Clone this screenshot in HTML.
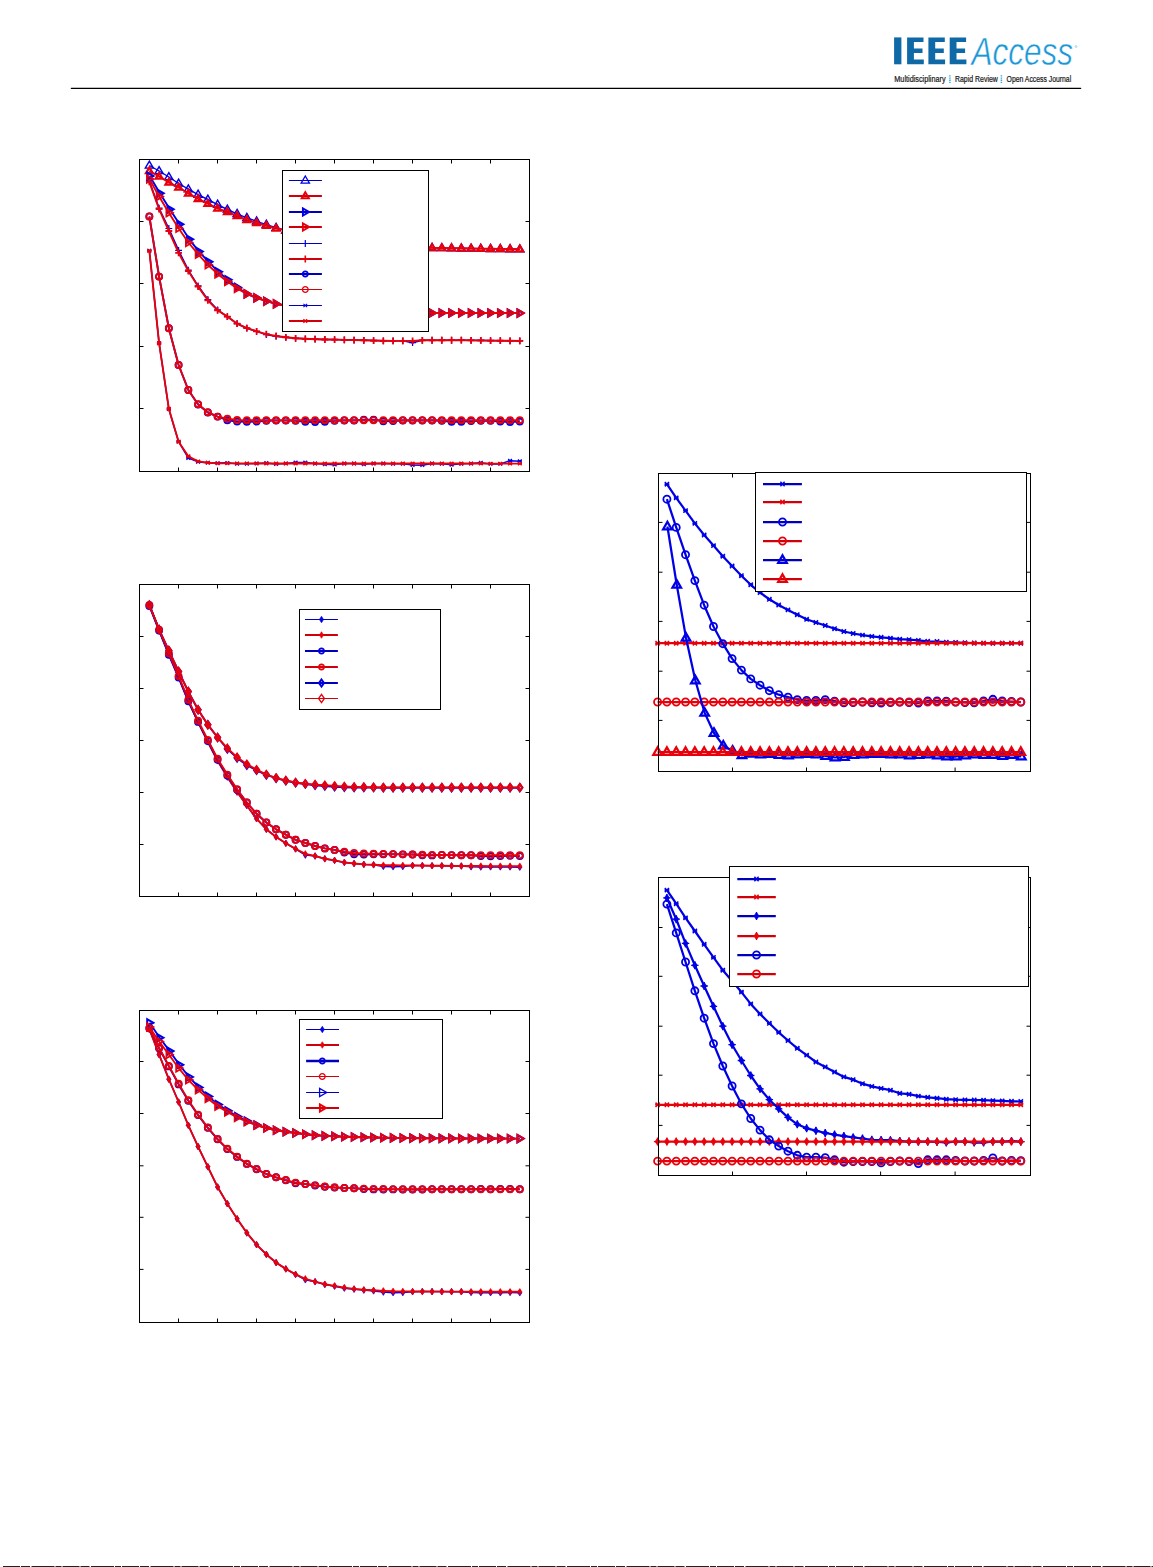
<!DOCTYPE html>
<html><head><meta charset="utf-8"><title>page</title>
<style>
html,body{margin:0;padding:0;background:#fff;}
body{width:1153px;height:1567px;overflow:hidden;font-family:"Liberation Sans",sans-serif;}
svg{display:block;}
</style></head><body>
<svg width="1153" height="1567" viewBox="0 0 1153 1567">
<defs>
<g id="m0"><path d="M0 -4.4 L4.07 2.65 L-4.07 2.65 Z" fill="none" stroke-width="1.4" stroke-miterlimit="6"/></g>
<g id="m1"><path d="M0 -3.6 L3.38 2.25 L-3.38 2.25 Z" fill="none" stroke-width="2.2" stroke-miterlimit="6"/></g>
<g id="m2"><path d="M3.6 0 L-2.25 3.38 L-2.25 -3.38 Z" fill="none" stroke-width="2.2" stroke-miterlimit="6"/></g>
<g id="m3"><path d="M4 0 L-2.45 3.72 L-2.45 -3.72 Z" fill="none" stroke-width="1.8" stroke-miterlimit="6"/></g>
<g id="m4"><path d="M0 -3.4 V3.4 M-3.4 0 H3.4" fill="none" stroke-width="1.2"/></g>
<g id="m5"><path d="M0 -3.4 V3.4 M-3.4 0 H3.4" fill="none" stroke-width="1.76"/></g>
<g id="m6"><circle r="3.05" fill="none" stroke-width="1.8"/></g>
<g id="m7"><circle r="3.05" fill="none" stroke-width="1.8"/></g>
<g id="m8"><path d="M-1.87 -1.7 L1.87 1.7 M-1.87 1.7 L1.87 -1.7 M-2.17 0 H2.17" fill="none" stroke-width="1.27"/></g>
<g id="m9"><path d="M-1.87 -1.7 L1.87 1.7 M-1.87 1.7 L1.87 -1.7 M-2.17 0 H2.17" fill="none" stroke-width="1.36"/></g>
<g id="m10"><path d="M0 -4.5 L4.16 2.7 L-4.16 2.7 Z" fill="none" stroke-width="1.3" stroke-miterlimit="6"/></g>
<g id="m11"><path d="M0 -3.8 L3.55 2.35 L-3.55 2.35 Z" fill="none" stroke-width="2" stroke-miterlimit="6"/></g>
<g id="m12"><path d="M3.8 0 L-2.35 3.55 L-2.35 -3.55 Z" fill="none" stroke-width="2" stroke-miterlimit="6"/></g>
<g id="m13"><path d="M3.9 0 L-2.4 3.64 L-2.4 -3.64 Z" fill="none" stroke-width="1.9" stroke-miterlimit="6"/></g>
<g id="m14"><path d="M0 -3.4 V3.4 M-3.4 0 H3.4" fill="none" stroke-width="1.2"/></g>
<g id="m15"><path d="M0 -3.4 V3.4 M-3.4 0 H3.4" fill="none" stroke-width="1.6"/></g>
<g id="m16"><circle r="2.65" fill="none" stroke-width="1.8"/></g>
<g id="m17"><circle r="2.9" fill="none" stroke-width="1.3"/></g>
<g id="m18"><path d="M-1.87 -1.7 L1.87 1.7 M-1.87 1.7 L1.87 -1.7 M-2.17 0 H2.17" fill="none" stroke-width="1.1"/></g>
<g id="m19"><path d="M-1.87 -1.7 L1.87 1.7 M-1.87 1.7 L1.87 -1.7 M-2.17 0 H2.17" fill="none" stroke-width="1.36"/></g>
<g id="m20"><path d="M0 -3.3 L2.1 0 L0 3.3 L-2.1 0 Z" stroke-width="0.6"/></g>
<g id="m21"><path d="M0 -3.3 L2.1 0 L0 3.3 L-2.1 0 Z" stroke-width="0.6"/></g>
<g id="m22"><circle r="3.05" fill="none" stroke-width="1.8"/></g>
<g id="m23"><path d="M0 -3.53 L2.52 0 L0 3.53 L-2.52 0 Z" fill="none" stroke-width="2" stroke-miterlimit="6"/></g>
<g id="m24"><path d="M0 -3.44 L2.46 0 L0 3.44 L-2.46 0 Z" fill="none" stroke-width="2.1" stroke-miterlimit="6"/></g>
<g id="m25"><path d="M0 -3.3 L2.1 0 L0 3.3 L-2.1 0 Z" stroke-width="0.6"/></g>
<g id="m26"><path d="M0 -3.3 L2.1 0 L0 3.3 L-2.1 0 Z" stroke-width="0.6"/></g>
<g id="m27"><path d="M0 -3.53 L2.52 0 L0 3.53 L-2.52 0 Z" fill="none" stroke-width="2" stroke-miterlimit="6"/></g>
<g id="m28"><path d="M0 -4.13 L2.95 0 L0 4.13 L-2.95 0 Z" fill="none" stroke-width="1.3" stroke-miterlimit="6"/></g>
<g id="m29"><path d="M3.8 0 L-2.35 3.55 L-2.35 -3.55 Z" fill="none" stroke-width="2" stroke-miterlimit="6"/></g>
<g id="m30"><path d="M4.05 0 L-2.47 3.77 L-2.47 -3.77 Z" fill="none" stroke-width="1.75" stroke-miterlimit="6"/></g>
<g id="m31"><circle r="2.65" fill="none" stroke-width="1.8"/></g>
<g id="m32"><path d="M4.5 0 L-2.7 4.16 L-2.7 -4.16 Z" fill="none" stroke-width="1.3" stroke-miterlimit="6"/></g>
<g id="m33"><path d="M-2.11 -2.18 L2.11 2.18 M-2.11 2.18 L2.11 -2.18 M-2.41 0 H2.41" fill="none" stroke-width="1.5"/></g>
<g id="m34"><circle r="3.55" fill="none" stroke-width="1.8"/></g>
<g id="m35"><path d="M0 -4.65 L4.29 2.77 L-4.29 2.77 Z" fill="none" stroke-width="2.25" stroke-miterlimit="6"/></g>
<g id="m36"><path d="M0 -3.6 L2.5 0 L0 3.6 L-2.5 0 Z" stroke-width="0.8" stroke-linejoin="round"/><path d="M0 -4 V4 M-3.7 0 H3.7" fill="none" stroke-width="1.3"/></g>
</defs>
<rect width="1153" height="1567" fill="#fff"/>
<g fill="#0f69a6"><rect x="894.1" y="37.4" width="7.3" height="26.9"/><path d="M907.1 37.4 h16.4 v4.7 h-9.6 v6.5 h8.6 v4.5 h-8.6 v6.5 h9.9 v4.7 h-16.7 Z"/><path d="M928.4 37.4 h16.4 v4.7 h-9.6 v6.5 h8.6 v4.5 h-8.6 v6.5 h9.9 v4.7 h-16.7 Z"/><path d="M949.7 37.4 h16.4 v4.7 h-9.6 v6.5 h8.6 v4.5 h-8.6 v6.5 h9.9 v4.7 h-16.7 Z"/></g><text x="0" y="0" transform="translate(971.6 64.7) scale(0.808 1)" font-family="Liberation Sans, sans-serif" font-style="italic" font-size="39" fill="#1b97d4" stroke="#fff" stroke-width="0.55">Access</text><circle cx="1076" cy="46.5" r="1" fill="none" stroke="#1b97d4" stroke-width="0.5" opacity="0.7"/><text x="894.3" y="81.5" textLength="51.3" font-family="Liberation Sans, sans-serif" font-size="8.3" fill="#1a1a1a" stroke="#1a1a1a" stroke-width="0.22" lengthAdjust="spacingAndGlyphs">Multidisciplinary</text><text x="955.0" y="81.5" textLength="42.8" font-family="Liberation Sans, sans-serif" font-size="8.3" fill="#1a1a1a" stroke="#1a1a1a" stroke-width="0.22" lengthAdjust="spacingAndGlyphs">Rapid Review</text><text x="1006.6" y="81.5" textLength="64.6" font-family="Liberation Sans, sans-serif" font-size="8.3" fill="#1a1a1a" stroke="#1a1a1a" stroke-width="0.22" lengthAdjust="spacingAndGlyphs">Open Access Journal</text><path d="M949.9 75.2 V83" stroke="#2fa9dc" stroke-width="1.5" stroke-dasharray="1.3 0.9" fill="none"/><path d="M1001.4 75.2 V83" stroke="#2fa9dc" stroke-width="1.5" stroke-dasharray="1.3 0.9" fill="none"/><path d="M71.4 88.45 H1080.6" stroke="#000" stroke-width="1.25" stroke-linecap="round"/><path d="M3 1566.5 H1153" stroke="#222" stroke-width="1" stroke-dasharray="17 1 9 1.5 23 1 6 1"/>
<g stroke="#0000e6" fill="#0000e6"><polyline points="149.35,165.5 159.1,171 168.85,177 178.6,183.5 188.34,189.2 198.09,194.6 207.84,199.5 217.59,204.6 227.34,209.5 237.09,213.8 246.84,217.8 256.59,221.3 266.34,224.6 276.09,227.7 285.84,230.35 295.58,232.4 305.33,234.45 315.08,236.5 324.83,237.88 334.58,239.25 344.33,240.62 354.08,242 363.83,242.88 373.58,243.75 383.33,244.62 393.07,245.5 402.82,246.07 412.57,246.65 422.32,247.23 432.07,247.8 441.82,247.98 451.57,248.15 461.32,248.32 471.07,248.5 480.82,248.64 490.56,248.78 500.31,248.92 510.06,249.06 519.81,249.2" fill="none" stroke-width="1.4" stroke-linejoin="round"/><use href="#m0" x="149.35" y="165.5"/><use href="#m0" x="159.1" y="171"/><use href="#m0" x="168.85" y="177"/><use href="#m0" x="178.6" y="183.5"/><use href="#m0" x="188.34" y="189.2"/><use href="#m0" x="198.09" y="194.6"/><use href="#m0" x="207.84" y="199.5"/><use href="#m0" x="217.59" y="204.6"/><use href="#m0" x="227.34" y="209.5"/><use href="#m0" x="237.09" y="213.8"/><use href="#m0" x="246.84" y="217.8"/><use href="#m0" x="256.59" y="221.3"/><use href="#m0" x="266.34" y="224.6"/><use href="#m0" x="276.09" y="227.7"/><use href="#m0" x="285.84" y="230.35"/><use href="#m0" x="295.58" y="232.4"/><use href="#m0" x="305.33" y="234.45"/><use href="#m0" x="315.08" y="236.5"/><use href="#m0" x="324.83" y="237.88"/><use href="#m0" x="334.58" y="239.25"/><use href="#m0" x="344.33" y="240.62"/><use href="#m0" x="354.08" y="242"/><use href="#m0" x="363.83" y="242.88"/><use href="#m0" x="373.58" y="243.75"/><use href="#m0" x="383.33" y="244.62"/><use href="#m0" x="393.07" y="245.5"/><use href="#m0" x="402.82" y="246.07"/><use href="#m0" x="412.57" y="246.65"/><use href="#m0" x="422.32" y="247.23"/><use href="#m0" x="432.07" y="247.8"/><use href="#m0" x="441.82" y="247.98"/><use href="#m0" x="451.57" y="248.15"/><use href="#m0" x="461.32" y="248.32"/><use href="#m0" x="471.07" y="248.5"/><use href="#m0" x="480.82" y="248.64"/><use href="#m0" x="490.56" y="248.78"/><use href="#m0" x="500.31" y="248.92"/><use href="#m0" x="510.06" y="249.06"/><use href="#m0" x="519.81" y="249.2"/></g><g stroke="#e8000b" fill="#e8000b"><polyline points="149.35,171 159.1,176.4 168.85,182.4 178.6,187.3 188.34,193.4 198.09,198.8 207.84,203.7 217.59,208.3 227.34,211.9 237.09,215.9 246.84,219.8 256.59,222.9 266.34,225.6 276.09,228.3 285.84,230.35 295.58,232.4 305.33,234.45 315.08,236.5 324.83,237.88 334.58,239.25 344.33,240.62 354.08,242 363.83,242.88 373.58,243.75 383.33,244.62 393.07,245.5 402.82,246.07 412.57,246.65 422.32,247.23 432.07,247.8 441.82,247.98 451.57,248.15 461.32,248.32 471.07,248.5 480.82,248.64 490.56,248.78 500.31,248.92 510.06,249.06 519.81,249.2" fill="none" stroke-width="1.9" stroke-linejoin="round"/><use href="#m1" x="149.35" y="171"/><use href="#m1" x="159.1" y="176.4"/><use href="#m1" x="168.85" y="182.4"/><use href="#m1" x="178.6" y="187.3"/><use href="#m1" x="188.34" y="193.4"/><use href="#m1" x="198.09" y="198.8"/><use href="#m1" x="207.84" y="203.7"/><use href="#m1" x="217.59" y="208.3"/><use href="#m1" x="227.34" y="211.9"/><use href="#m1" x="237.09" y="215.9"/><use href="#m1" x="246.84" y="219.8"/><use href="#m1" x="256.59" y="222.9"/><use href="#m1" x="266.34" y="225.6"/><use href="#m1" x="276.09" y="228.3"/><use href="#m1" x="285.84" y="230.35"/><use href="#m1" x="295.58" y="232.4"/><use href="#m1" x="305.33" y="234.45"/><use href="#m1" x="315.08" y="236.5"/><use href="#m1" x="324.83" y="237.88"/><use href="#m1" x="334.58" y="239.25"/><use href="#m1" x="344.33" y="240.62"/><use href="#m1" x="354.08" y="242"/><use href="#m1" x="363.83" y="242.88"/><use href="#m1" x="373.58" y="243.75"/><use href="#m1" x="383.33" y="244.62"/><use href="#m1" x="393.07" y="245.5"/><use href="#m1" x="402.82" y="246.07"/><use href="#m1" x="412.57" y="246.65"/><use href="#m1" x="422.32" y="247.23"/><use href="#m1" x="432.07" y="247.8"/><use href="#m1" x="441.82" y="247.98"/><use href="#m1" x="451.57" y="248.15"/><use href="#m1" x="461.32" y="248.32"/><use href="#m1" x="471.07" y="248.5"/><use href="#m1" x="480.82" y="248.64"/><use href="#m1" x="490.56" y="248.78"/><use href="#m1" x="500.31" y="248.92"/><use href="#m1" x="510.06" y="249.06"/><use href="#m1" x="519.81" y="249.2"/></g><g stroke="#0000e6" fill="#0000e6"><polyline points="149.65,176 159.9,193.2 169.85,209.2 179.6,224.3 189.34,239.3 198.99,251.6 208.64,261.8 218.19,271.7 227.74,279.7 237.29,287.4 246.84,293.9 256.59,297.9 266.34,301.2 276.09,303.9 285.84,305.9 295.58,307.5 305.33,308.8 315.08,309.8 324.83,310.6 334.58,311.2 344.33,311.7 354.08,312.1 363.83,312.4 373.58,312.6 383.33,312.8 393.07,312.9 402.82,312.92 412.57,312.93 422.32,312.95 432.07,312.96 441.82,312.98 451.57,312.99 461.32,313.01 471.07,313.02 480.82,313.04 490.56,313.05 500.31,313.07 510.06,313.08 519.81,313.1" fill="none" stroke-width="1.9" stroke-linejoin="round"/><use href="#m2" x="149.65" y="176"/><use href="#m2" x="159.9" y="193.2"/><use href="#m2" x="169.85" y="209.2"/><use href="#m2" x="179.6" y="224.3"/><use href="#m2" x="189.34" y="239.3"/><use href="#m2" x="198.99" y="251.6"/><use href="#m2" x="208.64" y="261.8"/><use href="#m2" x="218.19" y="271.7"/><use href="#m2" x="227.74" y="279.7"/><use href="#m2" x="237.29" y="287.4"/><use href="#m2" x="246.84" y="293.9"/><use href="#m2" x="256.59" y="297.9"/><use href="#m2" x="266.34" y="301.2"/><use href="#m2" x="276.09" y="303.9"/><use href="#m2" x="285.84" y="305.9"/><use href="#m2" x="295.58" y="307.5"/><use href="#m2" x="305.33" y="308.8"/><use href="#m2" x="315.08" y="309.8"/><use href="#m2" x="324.83" y="310.6"/><use href="#m2" x="334.58" y="311.2"/><use href="#m2" x="344.33" y="311.7"/><use href="#m2" x="354.08" y="312.1"/><use href="#m2" x="363.83" y="312.4"/><use href="#m2" x="373.58" y="312.6"/><use href="#m2" x="383.33" y="312.8"/><use href="#m2" x="393.07" y="312.9"/><use href="#m2" x="402.82" y="312.92"/><use href="#m2" x="412.57" y="312.93"/><use href="#m2" x="422.32" y="312.95"/><use href="#m2" x="432.07" y="312.96"/><use href="#m2" x="441.82" y="312.98"/><use href="#m2" x="451.57" y="312.99"/><use href="#m2" x="461.32" y="313.01"/><use href="#m2" x="471.07" y="313.02"/><use href="#m2" x="480.82" y="313.04"/><use href="#m2" x="490.56" y="313.05"/><use href="#m2" x="500.31" y="313.07"/><use href="#m2" x="510.06" y="313.08"/><use href="#m2" x="519.81" y="313.1"/></g><g stroke="#e8000b" fill="#e8000b"><polyline points="149.35,179 159.1,196.4 168.85,212.8 178.6,228.3 188.34,242.5 198.09,254.2 207.84,264.8 217.59,273.9 227.34,281.5 237.09,288.4 246.84,293.9 256.59,297.9 266.34,301.2 276.09,303.9 285.84,305.9 295.58,307.5 305.33,308.8 315.08,309.8 324.83,310.6 334.58,311.2 344.33,311.7 354.08,312.1 363.83,312.4 373.58,312.6 383.33,312.8 393.07,312.9 402.82,312.92 412.57,312.93 422.32,312.95 432.07,312.96 441.82,312.98 451.57,312.99 461.32,313.01 471.07,313.02 480.82,313.04 490.56,313.05 500.31,313.07 510.06,313.08 519.81,313.1" fill="none" stroke-width="1.9" stroke-linejoin="round"/><use href="#m3" x="149.35" y="179"/><use href="#m3" x="159.1" y="196.4"/><use href="#m3" x="168.85" y="212.8"/><use href="#m3" x="178.6" y="228.3"/><use href="#m3" x="188.34" y="242.5"/><use href="#m3" x="198.09" y="254.2"/><use href="#m3" x="207.84" y="264.8"/><use href="#m3" x="217.59" y="273.9"/><use href="#m3" x="227.34" y="281.5"/><use href="#m3" x="237.09" y="288.4"/><use href="#m3" x="246.84" y="293.9"/><use href="#m3" x="256.59" y="297.9"/><use href="#m3" x="266.34" y="301.2"/><use href="#m3" x="276.09" y="303.9"/><use href="#m3" x="285.84" y="305.9"/><use href="#m3" x="295.58" y="307.5"/><use href="#m3" x="305.33" y="308.8"/><use href="#m3" x="315.08" y="309.8"/><use href="#m3" x="324.83" y="310.6"/><use href="#m3" x="334.58" y="311.2"/><use href="#m3" x="344.33" y="311.7"/><use href="#m3" x="354.08" y="312.1"/><use href="#m3" x="363.83" y="312.4"/><use href="#m3" x="373.58" y="312.6"/><use href="#m3" x="383.33" y="312.8"/><use href="#m3" x="393.07" y="312.9"/><use href="#m3" x="402.82" y="312.92"/><use href="#m3" x="412.57" y="312.93"/><use href="#m3" x="422.32" y="312.95"/><use href="#m3" x="432.07" y="312.96"/><use href="#m3" x="441.82" y="312.98"/><use href="#m3" x="451.57" y="312.99"/><use href="#m3" x="461.32" y="313.01"/><use href="#m3" x="471.07" y="313.02"/><use href="#m3" x="480.82" y="313.04"/><use href="#m3" x="490.56" y="313.05"/><use href="#m3" x="500.31" y="313.07"/><use href="#m3" x="510.06" y="313.08"/><use href="#m3" x="519.81" y="313.1"/></g><g stroke="#0000e6" fill="#0000e6"><polyline points="149.35,180.9 159.1,208.2 168.85,228.5 178.6,250.4 188.34,270.1 198.09,285.8 207.84,299.5 217.59,309.8 227.34,316.6 237.09,323.7 246.84,328.2 256.59,331.3 266.34,334.6 276.09,336.4 285.84,337.3 295.58,338.3 305.33,338.8 315.08,339.2 324.83,339.5 334.58,339.6 344.33,339.84 354.08,340.08 363.83,340.32 373.58,340.56 383.33,340.8 393.07,340.83 402.82,340.87 412.57,342.7 422.32,340.3 432.07,340.27 441.82,340.25 451.57,340.23 461.32,340.2 471.07,340.33 480.82,340.47 490.56,340.6 500.31,340.7 510.06,340.8 519.81,340.9" fill="none" stroke-width="1.5" stroke-linejoin="round"/><use href="#m4" x="149.35" y="180.9"/><use href="#m4" x="159.1" y="208.2"/><use href="#m4" x="168.85" y="228.5"/><use href="#m4" x="178.6" y="250.4"/><use href="#m4" x="188.34" y="270.1"/><use href="#m4" x="198.09" y="285.8"/><use href="#m4" x="207.84" y="299.5"/><use href="#m4" x="217.59" y="309.8"/><use href="#m4" x="227.34" y="316.6"/><use href="#m4" x="237.09" y="323.7"/><use href="#m4" x="246.84" y="328.2"/><use href="#m4" x="256.59" y="331.3"/><use href="#m4" x="266.34" y="334.6"/><use href="#m4" x="276.09" y="336.4"/><use href="#m4" x="285.84" y="337.3"/><use href="#m4" x="295.58" y="338.3"/><use href="#m4" x="305.33" y="338.8"/><use href="#m4" x="315.08" y="339.2"/><use href="#m4" x="324.83" y="339.5"/><use href="#m4" x="334.58" y="339.6"/><use href="#m4" x="344.33" y="339.84"/><use href="#m4" x="354.08" y="340.08"/><use href="#m4" x="363.83" y="340.32"/><use href="#m4" x="373.58" y="340.56"/><use href="#m4" x="383.33" y="340.8"/><use href="#m4" x="393.07" y="340.83"/><use href="#m4" x="402.82" y="340.87"/><use href="#m4" x="412.57" y="342.7"/><use href="#m4" x="422.32" y="340.3"/><use href="#m4" x="432.07" y="340.27"/><use href="#m4" x="441.82" y="340.25"/><use href="#m4" x="451.57" y="340.23"/><use href="#m4" x="461.32" y="340.2"/><use href="#m4" x="471.07" y="340.33"/><use href="#m4" x="480.82" y="340.47"/><use href="#m4" x="490.56" y="340.6"/><use href="#m4" x="500.31" y="340.7"/><use href="#m4" x="510.06" y="340.8"/><use href="#m4" x="519.81" y="340.9"/></g><g stroke="#e8000b" fill="#e8000b"><polyline points="149.35,181.9 159.1,209.2 168.85,231 178.6,252.9 188.34,271.1 198.09,286.6 207.84,300.3 217.59,310.3 227.34,316.6 237.09,323.7 246.84,328.2 256.59,331.3 266.34,334.1 276.09,335.9 285.84,337.3 295.58,338.3 305.33,338.8 315.08,339.2 324.83,339.5 334.58,339.6 344.33,339.84 354.08,340.08 363.83,340.32 373.58,340.56 383.33,340.8 393.07,340.83 402.82,340.87 412.57,340.9 422.32,340.3 432.07,340.27 441.82,340.25 451.57,340.23 461.32,340.2 471.07,340.33 480.82,340.47 490.56,340.6 500.31,340.7 510.06,340.8 519.81,340.9" fill="none" stroke-width="1.9" stroke-linejoin="round"/><use href="#m5" x="149.35" y="181.9"/><use href="#m5" x="159.1" y="209.2"/><use href="#m5" x="168.85" y="231"/><use href="#m5" x="178.6" y="252.9"/><use href="#m5" x="188.34" y="271.1"/><use href="#m5" x="198.09" y="286.6"/><use href="#m5" x="207.84" y="300.3"/><use href="#m5" x="217.59" y="310.3"/><use href="#m5" x="227.34" y="316.6"/><use href="#m5" x="237.09" y="323.7"/><use href="#m5" x="246.84" y="328.2"/><use href="#m5" x="256.59" y="331.3"/><use href="#m5" x="266.34" y="334.1"/><use href="#m5" x="276.09" y="335.9"/><use href="#m5" x="285.84" y="337.3"/><use href="#m5" x="295.58" y="338.3"/><use href="#m5" x="305.33" y="338.8"/><use href="#m5" x="315.08" y="339.2"/><use href="#m5" x="324.83" y="339.5"/><use href="#m5" x="334.58" y="339.6"/><use href="#m5" x="344.33" y="339.84"/><use href="#m5" x="354.08" y="340.08"/><use href="#m5" x="363.83" y="340.32"/><use href="#m5" x="373.58" y="340.56"/><use href="#m5" x="383.33" y="340.8"/><use href="#m5" x="393.07" y="340.83"/><use href="#m5" x="402.82" y="340.87"/><use href="#m5" x="412.57" y="340.9"/><use href="#m5" x="422.32" y="340.3"/><use href="#m5" x="432.07" y="340.27"/><use href="#m5" x="441.82" y="340.25"/><use href="#m5" x="451.57" y="340.23"/><use href="#m5" x="461.32" y="340.2"/><use href="#m5" x="471.07" y="340.33"/><use href="#m5" x="480.82" y="340.47"/><use href="#m5" x="490.56" y="340.6"/><use href="#m5" x="500.31" y="340.7"/><use href="#m5" x="510.06" y="340.8"/><use href="#m5" x="519.81" y="340.9"/></g><g stroke="#0000e6" fill="#0000e6"><polyline points="149.35,216.5 159.1,276.6 168.85,328.2 178.6,365 188.34,390 198.09,404.5 207.84,412.5 217.59,416.6 227.34,420.2 237.09,421.5 246.84,421.8 256.59,421.6 266.34,420.8 276.09,420.6 285.84,420.6 295.58,420.8 305.33,421.8 315.08,422 324.83,421.8 334.58,420.8 344.33,420.5 354.08,420.5 363.83,419.7 373.58,419.6 383.33,421.2 393.07,421 402.82,420.5 412.57,420.5 422.32,420.5 432.07,420.5 441.82,420.7 451.57,421.7 461.32,421.8 471.07,421 480.82,420.7 490.56,420.7 500.31,421.6 510.06,422 519.81,421.6" fill="none" stroke-width="1.9" stroke-linejoin="round"/><use href="#m6" x="149.35" y="216.5"/><use href="#m6" x="159.1" y="276.6"/><use href="#m6" x="168.85" y="328.2"/><use href="#m6" x="178.6" y="365"/><use href="#m6" x="188.34" y="390"/><use href="#m6" x="198.09" y="404.5"/><use href="#m6" x="207.84" y="412.5"/><use href="#m6" x="217.59" y="416.6"/><use href="#m6" x="227.34" y="420.2"/><use href="#m6" x="237.09" y="421.5"/><use href="#m6" x="246.84" y="421.8"/><use href="#m6" x="256.59" y="421.6"/><use href="#m6" x="266.34" y="420.8"/><use href="#m6" x="276.09" y="420.6"/><use href="#m6" x="285.84" y="420.6"/><use href="#m6" x="295.58" y="420.8"/><use href="#m6" x="305.33" y="421.8"/><use href="#m6" x="315.08" y="422"/><use href="#m6" x="324.83" y="421.8"/><use href="#m6" x="334.58" y="420.8"/><use href="#m6" x="344.33" y="420.5"/><use href="#m6" x="354.08" y="420.5"/><use href="#m6" x="363.83" y="419.7"/><use href="#m6" x="373.58" y="419.6"/><use href="#m6" x="383.33" y="421.2"/><use href="#m6" x="393.07" y="421"/><use href="#m6" x="402.82" y="420.5"/><use href="#m6" x="412.57" y="420.5"/><use href="#m6" x="422.32" y="420.5"/><use href="#m6" x="432.07" y="420.5"/><use href="#m6" x="441.82" y="420.7"/><use href="#m6" x="451.57" y="421.7"/><use href="#m6" x="461.32" y="421.8"/><use href="#m6" x="471.07" y="421"/><use href="#m6" x="480.82" y="420.7"/><use href="#m6" x="490.56" y="420.7"/><use href="#m6" x="500.31" y="421.6"/><use href="#m6" x="510.06" y="422"/><use href="#m6" x="519.81" y="421.6"/></g><g stroke="#e8000b" fill="#e8000b"><polyline points="149.35,216.5 159.1,276.6 168.85,328.2 178.6,365 188.34,390 198.09,404.2 207.84,412.2 217.59,416.6 227.34,418.8 237.09,419.9 246.84,420.2 256.59,420.2 266.34,420.2 276.09,420.2 285.84,420.2 295.58,420.2 305.33,420.2 315.08,420.2 324.83,420.2 334.58,420.2 344.33,420.2 354.08,420.2 363.83,420.2 373.58,420.2 383.33,420.2 393.07,420.2 402.82,420.2 412.57,420.2 422.32,420.2 432.07,420.2 441.82,420.2 451.57,420.2 461.32,420.2 471.07,420.2 480.82,420.2 490.56,420.2 500.31,420.2 510.06,420.2 519.81,420.2" fill="none" stroke-width="1.9" stroke-linejoin="round"/><use href="#m7" x="149.35" y="216.5"/><use href="#m7" x="159.1" y="276.6"/><use href="#m7" x="168.85" y="328.2"/><use href="#m7" x="178.6" y="365"/><use href="#m7" x="188.34" y="390"/><use href="#m7" x="198.09" y="404.2"/><use href="#m7" x="207.84" y="412.2"/><use href="#m7" x="217.59" y="416.6"/><use href="#m7" x="227.34" y="418.8"/><use href="#m7" x="237.09" y="419.9"/><use href="#m7" x="246.84" y="420.2"/><use href="#m7" x="256.59" y="420.2"/><use href="#m7" x="266.34" y="420.2"/><use href="#m7" x="276.09" y="420.2"/><use href="#m7" x="285.84" y="420.2"/><use href="#m7" x="295.58" y="420.2"/><use href="#m7" x="305.33" y="420.2"/><use href="#m7" x="315.08" y="420.2"/><use href="#m7" x="324.83" y="420.2"/><use href="#m7" x="334.58" y="420.2"/><use href="#m7" x="344.33" y="420.2"/><use href="#m7" x="354.08" y="420.2"/><use href="#m7" x="363.83" y="420.2"/><use href="#m7" x="373.58" y="420.2"/><use href="#m7" x="383.33" y="420.2"/><use href="#m7" x="393.07" y="420.2"/><use href="#m7" x="402.82" y="420.2"/><use href="#m7" x="412.57" y="420.2"/><use href="#m7" x="422.32" y="420.2"/><use href="#m7" x="432.07" y="420.2"/><use href="#m7" x="441.82" y="420.2"/><use href="#m7" x="451.57" y="420.2"/><use href="#m7" x="461.32" y="420.2"/><use href="#m7" x="471.07" y="420.2"/><use href="#m7" x="480.82" y="420.2"/><use href="#m7" x="490.56" y="420.2"/><use href="#m7" x="500.31" y="420.2"/><use href="#m7" x="510.06" y="420.2"/><use href="#m7" x="519.81" y="420.2"/></g><g stroke="#0000e6" fill="#0000e6"><polyline points="149.35,250.7 159.1,343.2 168.85,409.2 178.6,441.7 188.34,458 198.09,461.9 207.84,462.7 217.59,463.1 227.34,462.81 237.09,463.71 246.84,463.72 256.59,463.43 266.34,463.03 276.09,464.04 285.84,463.45 295.58,462.45 305.33,462.46 315.08,463.46 324.83,464.27 334.58,464.68 344.33,463.48 354.08,463.49 363.83,464.3 373.58,463.5 383.33,463.51 393.07,463.82 402.82,463.82 412.57,465.03 422.32,465.14 432.07,463.54 441.82,463.85 451.57,464.85 461.32,463.86 471.07,463.57 480.82,462.77 490.56,463.88 500.31,463.89 510.06,460.79 519.81,461.2" fill="none" stroke-width="1.5" stroke-linejoin="round"/><use href="#m8" x="149.35" y="250.7"/><use href="#m8" x="159.1" y="343.2"/><use href="#m8" x="168.85" y="409.2"/><use href="#m8" x="178.6" y="441.7"/><use href="#m8" x="188.34" y="458"/><use href="#m8" x="198.09" y="461.9"/><use href="#m8" x="207.84" y="462.7"/><use href="#m8" x="217.59" y="463.1"/><use href="#m8" x="227.34" y="462.81"/><use href="#m8" x="237.09" y="463.71"/><use href="#m8" x="246.84" y="463.72"/><use href="#m8" x="256.59" y="463.43"/><use href="#m8" x="266.34" y="463.03"/><use href="#m8" x="276.09" y="464.04"/><use href="#m8" x="285.84" y="463.45"/><use href="#m8" x="295.58" y="462.45"/><use href="#m8" x="305.33" y="462.46"/><use href="#m8" x="315.08" y="463.46"/><use href="#m8" x="324.83" y="464.27"/><use href="#m8" x="334.58" y="464.68"/><use href="#m8" x="344.33" y="463.48"/><use href="#m8" x="354.08" y="463.49"/><use href="#m8" x="363.83" y="464.3"/><use href="#m8" x="373.58" y="463.5"/><use href="#m8" x="383.33" y="463.51"/><use href="#m8" x="393.07" y="463.82"/><use href="#m8" x="402.82" y="463.82"/><use href="#m8" x="412.57" y="465.03"/><use href="#m8" x="422.32" y="465.14"/><use href="#m8" x="432.07" y="463.54"/><use href="#m8" x="441.82" y="463.85"/><use href="#m8" x="451.57" y="464.85"/><use href="#m8" x="461.32" y="463.86"/><use href="#m8" x="471.07" y="463.57"/><use href="#m8" x="480.82" y="462.77"/><use href="#m8" x="490.56" y="463.88"/><use href="#m8" x="500.31" y="463.89"/><use href="#m8" x="510.06" y="460.79"/><use href="#m8" x="519.81" y="461.2"/></g><g stroke="#e8000b" fill="#e8000b"><polyline points="149.35,250.7 159.1,343.2 168.85,408.7 178.6,441.7 188.34,456.3 198.09,461.4 207.84,462.7 217.59,463.4 227.34,463.41 237.09,463.41 246.84,463.42 256.59,463.43 266.34,463.43 276.09,463.44 285.84,463.45 295.58,463.45 305.33,463.46 315.08,463.46 324.83,463.47 334.58,463.48 344.33,463.48 354.08,463.49 363.83,463.5 373.58,463.5 383.33,463.51 393.07,463.52 402.82,463.52 412.57,463.53 422.32,463.54 432.07,463.54 441.82,463.55 451.57,463.55 461.32,463.56 471.07,463.57 480.82,463.57 490.56,463.58 500.31,463.59 510.06,463.59 519.81,463.6" fill="none" stroke-width="1.9" stroke-linejoin="round"/><use href="#m9" x="149.35" y="250.7"/><use href="#m9" x="159.1" y="343.2"/><use href="#m9" x="168.85" y="408.7"/><use href="#m9" x="178.6" y="441.7"/><use href="#m9" x="188.34" y="456.3"/><use href="#m9" x="198.09" y="461.4"/><use href="#m9" x="207.84" y="462.7"/><use href="#m9" x="217.59" y="463.4"/><use href="#m9" x="227.34" y="463.41"/><use href="#m9" x="237.09" y="463.41"/><use href="#m9" x="246.84" y="463.42"/><use href="#m9" x="256.59" y="463.43"/><use href="#m9" x="266.34" y="463.43"/><use href="#m9" x="276.09" y="463.44"/><use href="#m9" x="285.84" y="463.45"/><use href="#m9" x="295.58" y="463.45"/><use href="#m9" x="305.33" y="463.46"/><use href="#m9" x="315.08" y="463.46"/><use href="#m9" x="324.83" y="463.47"/><use href="#m9" x="334.58" y="463.48"/><use href="#m9" x="344.33" y="463.48"/><use href="#m9" x="354.08" y="463.49"/><use href="#m9" x="363.83" y="463.5"/><use href="#m9" x="373.58" y="463.5"/><use href="#m9" x="383.33" y="463.51"/><use href="#m9" x="393.07" y="463.52"/><use href="#m9" x="402.82" y="463.52"/><use href="#m9" x="412.57" y="463.53"/><use href="#m9" x="422.32" y="463.54"/><use href="#m9" x="432.07" y="463.54"/><use href="#m9" x="441.82" y="463.55"/><use href="#m9" x="451.57" y="463.55"/><use href="#m9" x="461.32" y="463.56"/><use href="#m9" x="471.07" y="463.57"/><use href="#m9" x="480.82" y="463.57"/><use href="#m9" x="490.56" y="463.58"/><use href="#m9" x="500.31" y="463.59"/><use href="#m9" x="510.06" y="463.59"/><use href="#m9" x="519.81" y="463.6"/></g><g stroke="#000" stroke-width="1" fill="none"><rect x="139.5" y="159.5" width="390" height="312"/><path d="M178.5 471.5 v-4 M178.5 159.5 v4 M217.5 471.5 v-4 M217.5 159.5 v4 M256.5 471.5 v-4 M256.5 159.5 v4 M295.5 471.5 v-4 M295.5 159.5 v4 M334.5 471.5 v-4 M334.5 159.5 v4 M373.5 471.5 v-4 M373.5 159.5 v4 M412.5 471.5 v-4 M412.5 159.5 v4 M451.5 471.5 v-4 M451.5 159.5 v4 M490.5 471.5 v-4 M490.5 159.5 v4 M139.5 221.5 h4 M529.5 221.5 h-4 M139.5 283.5 h4 M529.5 283.5 h-4 M139.5 346.5 h4 M529.5 346.5 h-4 M139.5 408.5 h4 M529.5 408.5 h-4 "/></g><rect x="282.5" y="170.5" width="146" height="161" fill="#fff" stroke="#000" stroke-width="1"/><g stroke="#0000e6" fill="#0000e6"><path d="M288.9 180.5 H321.9" stroke="#0000b8" stroke-width="1.1"/><use href="#m10" x="305.3" y="180.5"/></g><g stroke="#e8000b" fill="#e8000b"><path d="M288.9 196 H321.9" stroke="#cf0008" stroke-width="2"/><use href="#m11" x="305.3" y="196"/></g><g stroke="#0000e6" fill="#0000e6"><path d="M288.9 212 H321.9" stroke="#0000b8" stroke-width="2"/><use href="#m12" x="305.3" y="212"/></g><g stroke="#e8000b" fill="#e8000b"><path d="M288.9 227 H321.9" stroke="#cf0008" stroke-width="1.9"/><use href="#m13" x="305.3" y="227"/></g><g stroke="#0000e6" fill="#0000e6"><path d="M288.9 243.5 H321.9" stroke="#0000b8" stroke-width="1.1"/><use href="#m14" x="305.3" y="243.5"/></g><g stroke="#e8000b" fill="#e8000b"><path d="M288.9 259 H321.9" stroke="#cf0008" stroke-width="2"/><use href="#m15" x="305.3" y="259"/></g><g stroke="#0000e6" fill="#0000e6"><path d="M288.9 274 H321.9" stroke="#0000b8" stroke-width="2"/><use href="#m16" x="305.3" y="274"/></g><g stroke="#e8000b" fill="#e8000b"><path d="M288.9 289.5 H321.9" stroke="#cf0008" stroke-width="1.1"/><use href="#m17" x="305.3" y="289.5"/></g><g stroke="#0000e6" fill="#0000e6"><path d="M288.9 305.5 H321.9" stroke="#0000b8" stroke-width="1.1"/><use href="#m18" x="305.3" y="305.5"/></g><g stroke="#e8000b" fill="#e8000b"><path d="M288.9 321 H321.9" stroke="#cf0008" stroke-width="2"/><use href="#m19" x="305.3" y="321"/></g>
<g stroke="#0000e6" fill="#0000e6"><polyline points="149.35,605 159.1,629.8 168.85,653.8 178.6,677 188.34,700.8 198.09,722 207.84,741.8 217.59,760.8 227.34,777 237.09,792 246.84,805.5 256.59,818.7 266.34,829.3 276.09,836.9 285.84,843.3 295.58,848.9 305.33,855.1 315.08,856 324.83,858.8 334.58,860.4 344.33,862.4 354.08,863.5 363.83,864.4 373.58,864.8 383.33,866.4 393.07,866.8 402.82,866.6 412.57,865.5 422.32,865.6 432.07,865.7 441.82,865.8 451.57,865.9 461.32,866 471.07,866.83 480.82,867.07 490.56,866.9 500.31,866.93 510.06,866.97 519.81,867.2" fill="none" stroke-width="1.5" stroke-linejoin="round"/><use href="#m20" x="149.35" y="605"/><use href="#m20" x="159.1" y="629.8"/><use href="#m20" x="168.85" y="653.8"/><use href="#m20" x="178.6" y="677"/><use href="#m20" x="188.34" y="700.8"/><use href="#m20" x="198.09" y="722"/><use href="#m20" x="207.84" y="741.8"/><use href="#m20" x="217.59" y="760.8"/><use href="#m20" x="227.34" y="777"/><use href="#m20" x="237.09" y="792"/><use href="#m20" x="246.84" y="805.5"/><use href="#m20" x="256.59" y="818.7"/><use href="#m20" x="266.34" y="829.3"/><use href="#m20" x="276.09" y="836.9"/><use href="#m20" x="285.84" y="843.3"/><use href="#m20" x="295.58" y="848.9"/><use href="#m20" x="305.33" y="855.1"/><use href="#m20" x="315.08" y="856"/><use href="#m20" x="324.83" y="858.8"/><use href="#m20" x="334.58" y="860.4"/><use href="#m20" x="344.33" y="862.4"/><use href="#m20" x="354.08" y="863.5"/><use href="#m20" x="363.83" y="864.4"/><use href="#m20" x="373.58" y="864.8"/><use href="#m20" x="383.33" y="866.4"/><use href="#m20" x="393.07" y="866.8"/><use href="#m20" x="402.82" y="866.6"/><use href="#m20" x="412.57" y="865.5"/><use href="#m20" x="422.32" y="865.6"/><use href="#m20" x="432.07" y="865.7"/><use href="#m20" x="441.82" y="865.8"/><use href="#m20" x="451.57" y="865.9"/><use href="#m20" x="461.32" y="866"/><use href="#m20" x="471.07" y="866.83"/><use href="#m20" x="480.82" y="867.07"/><use href="#m20" x="490.56" y="866.9"/><use href="#m20" x="500.31" y="866.93"/><use href="#m20" x="510.06" y="866.97"/><use href="#m20" x="519.81" y="867.2"/></g><g stroke="#e8000b" fill="#e8000b"><polyline points="149.35,605 159.1,629.8 168.85,653.8 178.6,677 188.34,700.8 198.09,722 207.84,741.8 217.59,760.8 227.34,777 237.09,792 246.84,805.5 256.59,818.7 266.34,829.3 276.09,836.9 285.84,843.3 295.58,848.9 305.33,853.9 315.08,856 324.83,858.8 334.58,860.4 344.33,862.4 354.08,863.5 363.83,864.4 373.58,864.8 383.33,865.2 393.07,865.3 402.82,865.4 412.57,865.5 422.32,865.6 432.07,865.7 441.82,865.8 451.57,865.9 461.32,866 471.07,866.03 480.82,866.07 490.56,866.1 500.31,866.13 510.06,866.17 519.81,866.2" fill="none" stroke-width="1.9" stroke-linejoin="round"/><use href="#m21" x="149.35" y="605"/><use href="#m21" x="159.1" y="629.8"/><use href="#m21" x="168.85" y="653.8"/><use href="#m21" x="178.6" y="677"/><use href="#m21" x="188.34" y="700.8"/><use href="#m21" x="198.09" y="722"/><use href="#m21" x="207.84" y="741.8"/><use href="#m21" x="217.59" y="760.8"/><use href="#m21" x="227.34" y="777"/><use href="#m21" x="237.09" y="792"/><use href="#m21" x="246.84" y="805.5"/><use href="#m21" x="256.59" y="818.7"/><use href="#m21" x="266.34" y="829.3"/><use href="#m21" x="276.09" y="836.9"/><use href="#m21" x="285.84" y="843.3"/><use href="#m21" x="295.58" y="848.9"/><use href="#m21" x="305.33" y="853.9"/><use href="#m21" x="315.08" y="856"/><use href="#m21" x="324.83" y="858.8"/><use href="#m21" x="334.58" y="860.4"/><use href="#m21" x="344.33" y="862.4"/><use href="#m21" x="354.08" y="863.5"/><use href="#m21" x="363.83" y="864.4"/><use href="#m21" x="373.58" y="864.8"/><use href="#m21" x="383.33" y="865.2"/><use href="#m21" x="393.07" y="865.3"/><use href="#m21" x="402.82" y="865.4"/><use href="#m21" x="412.57" y="865.5"/><use href="#m21" x="422.32" y="865.6"/><use href="#m21" x="432.07" y="865.7"/><use href="#m21" x="441.82" y="865.8"/><use href="#m21" x="451.57" y="865.9"/><use href="#m21" x="461.32" y="866"/><use href="#m21" x="471.07" y="866.03"/><use href="#m21" x="480.82" y="866.07"/><use href="#m21" x="490.56" y="866.1"/><use href="#m21" x="500.31" y="866.13"/><use href="#m21" x="510.06" y="866.17"/><use href="#m21" x="519.81" y="866.2"/></g><g stroke="#0000e6" fill="#0000e6"><polyline points="149.35,606 159.1,630.6 168.85,654.8 178.6,677.6 188.34,701.3 198.09,721.9 207.84,741 217.59,759.8 227.34,775.6 237.09,789.7 246.84,802.5 256.59,813.8 266.34,822.5 276.09,829.3 285.84,834.7 295.58,839.8 305.33,842.9 315.08,846 324.83,848.4 334.58,849.9 344.33,852.5 354.08,854.2 363.83,854.5 373.58,854.2 383.33,854.2 393.07,854.12 402.82,854.35 412.57,854.57 422.32,855.3 432.07,855.4 441.82,855 451.57,855.1 461.32,855.2 471.07,855.22 480.82,856.03 490.56,856.25 500.31,856.07 510.06,855.78 519.81,856.1" fill="none" stroke-width="1.9" stroke-linejoin="round"/><use href="#m22" x="149.35" y="606"/><use href="#m22" x="159.1" y="630.6"/><use href="#m22" x="168.85" y="654.8"/><use href="#m22" x="178.6" y="677.6"/><use href="#m22" x="188.34" y="701.3"/><use href="#m22" x="198.09" y="721.9"/><use href="#m22" x="207.84" y="741"/><use href="#m22" x="217.59" y="759.8"/><use href="#m22" x="227.34" y="775.6"/><use href="#m22" x="237.09" y="789.7"/><use href="#m22" x="246.84" y="802.5"/><use href="#m22" x="256.59" y="813.8"/><use href="#m22" x="266.34" y="822.5"/><use href="#m22" x="276.09" y="829.3"/><use href="#m22" x="285.84" y="834.7"/><use href="#m22" x="295.58" y="839.8"/><use href="#m22" x="305.33" y="842.9"/><use href="#m22" x="315.08" y="846"/><use href="#m22" x="324.83" y="848.4"/><use href="#m22" x="334.58" y="849.9"/><use href="#m22" x="344.33" y="852.5"/><use href="#m22" x="354.08" y="854.2"/><use href="#m22" x="363.83" y="854.5"/><use href="#m22" x="373.58" y="854.2"/><use href="#m22" x="383.33" y="854.2"/><use href="#m22" x="393.07" y="854.12"/><use href="#m22" x="402.82" y="854.35"/><use href="#m22" x="412.57" y="854.57"/><use href="#m22" x="422.32" y="855.3"/><use href="#m22" x="432.07" y="855.4"/><use href="#m22" x="441.82" y="855"/><use href="#m22" x="451.57" y="855.1"/><use href="#m22" x="461.32" y="855.2"/><use href="#m22" x="471.07" y="855.22"/><use href="#m22" x="480.82" y="856.03"/><use href="#m22" x="490.56" y="856.25"/><use href="#m22" x="500.31" y="856.07"/><use href="#m22" x="510.06" y="855.78"/><use href="#m22" x="519.81" y="856.1"/></g><g stroke="#e8000b" fill="#e8000b"><polyline points="149.35,605 159.1,629.6 168.85,653.3 178.6,676.1 188.34,699.8 198.09,720.7 207.84,740 217.59,758.8 227.34,774.6 237.09,789.2 246.84,802.5 256.59,813.8 266.34,822.5 276.09,829.3 285.84,834.7 295.58,839.8 305.33,842.9 315.08,846 324.83,848.4 334.58,849.9 344.33,851.7 354.08,853 363.83,853.5 373.58,853.7 383.33,853.9 393.07,854.12 402.82,854.35 412.57,854.57 422.32,854.8 432.07,854.9 441.82,855 451.57,855.1 461.32,855.2 471.07,855.22 480.82,855.23 490.56,855.25 500.31,855.27 510.06,855.28 519.81,855.3" fill="none" stroke-width="1.9" stroke-linejoin="round"/><use href="#m22" x="149.35" y="605"/><use href="#m22" x="159.1" y="629.6"/><use href="#m22" x="168.85" y="653.3"/><use href="#m22" x="178.6" y="676.1"/><use href="#m22" x="188.34" y="699.8"/><use href="#m22" x="198.09" y="720.7"/><use href="#m22" x="207.84" y="740"/><use href="#m22" x="217.59" y="758.8"/><use href="#m22" x="227.34" y="774.6"/><use href="#m22" x="237.09" y="789.2"/><use href="#m22" x="246.84" y="802.5"/><use href="#m22" x="256.59" y="813.8"/><use href="#m22" x="266.34" y="822.5"/><use href="#m22" x="276.09" y="829.3"/><use href="#m22" x="285.84" y="834.7"/><use href="#m22" x="295.58" y="839.8"/><use href="#m22" x="305.33" y="842.9"/><use href="#m22" x="315.08" y="846"/><use href="#m22" x="324.83" y="848.4"/><use href="#m22" x="334.58" y="849.9"/><use href="#m22" x="344.33" y="851.7"/><use href="#m22" x="354.08" y="853"/><use href="#m22" x="363.83" y="853.5"/><use href="#m22" x="373.58" y="853.7"/><use href="#m22" x="383.33" y="853.9"/><use href="#m22" x="393.07" y="854.12"/><use href="#m22" x="402.82" y="854.35"/><use href="#m22" x="412.57" y="854.57"/><use href="#m22" x="422.32" y="854.8"/><use href="#m22" x="432.07" y="854.9"/><use href="#m22" x="441.82" y="855"/><use href="#m22" x="451.57" y="855.1"/><use href="#m22" x="461.32" y="855.2"/><use href="#m22" x="471.07" y="855.22"/><use href="#m22" x="480.82" y="855.23"/><use href="#m22" x="490.56" y="855.25"/><use href="#m22" x="500.31" y="855.27"/><use href="#m22" x="510.06" y="855.28"/><use href="#m22" x="519.81" y="855.3"/></g><g stroke="#0000e6" fill="#0000e6"><polyline points="149.35,605 159.1,629.6 168.85,650.6 178.6,671.5 188.34,691.6 198.09,709.8 207.84,724.7 217.59,737.5 227.34,749 237.09,757.9 246.84,765.2 256.59,770.3 266.34,774.9 276.09,778.2 285.84,780.8 295.58,782.8 305.33,784 315.08,785.2 324.83,786 334.58,786.7 344.33,787.3 354.08,787.5 363.83,787.4 373.58,787.6 383.33,787.7 393.07,787.7 402.82,787.7 412.57,787.7 422.32,787.7 432.07,787.7 441.82,787.7 451.57,787.7 461.32,787.7 471.07,787.7 480.82,787.7 490.56,787.7 500.31,787.7 510.06,787.7 519.81,787.7" fill="none" stroke-width="1.9" stroke-linejoin="round"/><use href="#m23" x="149.35" y="605"/><use href="#m23" x="159.1" y="629.6"/><use href="#m23" x="168.85" y="650.6"/><use href="#m23" x="178.6" y="671.5"/><use href="#m23" x="188.34" y="691.6"/><use href="#m23" x="198.09" y="709.8"/><use href="#m23" x="207.84" y="724.7"/><use href="#m23" x="217.59" y="737.5"/><use href="#m23" x="227.34" y="749"/><use href="#m23" x="237.09" y="757.9"/><use href="#m23" x="246.84" y="765.2"/><use href="#m23" x="256.59" y="770.3"/><use href="#m23" x="266.34" y="774.9"/><use href="#m23" x="276.09" y="778.2"/><use href="#m23" x="285.84" y="780.8"/><use href="#m23" x="295.58" y="782.8"/><use href="#m23" x="305.33" y="784"/><use href="#m23" x="315.08" y="785.2"/><use href="#m23" x="324.83" y="786"/><use href="#m23" x="334.58" y="786.7"/><use href="#m23" x="344.33" y="787.3"/><use href="#m23" x="354.08" y="787.5"/><use href="#m23" x="363.83" y="787.4"/><use href="#m23" x="373.58" y="787.6"/><use href="#m23" x="383.33" y="787.7"/><use href="#m23" x="393.07" y="787.7"/><use href="#m23" x="402.82" y="787.7"/><use href="#m23" x="412.57" y="787.7"/><use href="#m23" x="422.32" y="787.7"/><use href="#m23" x="432.07" y="787.7"/><use href="#m23" x="441.82" y="787.7"/><use href="#m23" x="451.57" y="787.7"/><use href="#m23" x="461.32" y="787.7"/><use href="#m23" x="471.07" y="787.7"/><use href="#m23" x="480.82" y="787.7"/><use href="#m23" x="490.56" y="787.7"/><use href="#m23" x="500.31" y="787.7"/><use href="#m23" x="510.06" y="787.7"/><use href="#m23" x="519.81" y="787.7"/></g><g stroke="#e8000b" fill="#e8000b"><polyline points="149.35,605 159.1,629.6 168.85,650.6 178.6,671.5 188.34,691.6 198.09,709.8 207.84,724.7 217.59,737.5 227.34,748.2 237.09,757.3 246.84,764.2 256.59,769.7 266.34,774.6 276.09,777.9 285.84,780.5 295.58,782.5 305.33,783.7 315.08,784.6 324.83,785.2 334.58,785.9 344.33,786.5 354.08,786.9 363.83,787.1 373.58,787.3 383.33,787.4 393.07,787.4 402.82,787.4 412.57,787.4 422.32,787.4 432.07,787.4 441.82,787.4 451.57,787.4 461.32,787.4 471.07,787.4 480.82,787.4 490.56,787.4 500.31,787.4 510.06,787.4 519.81,787.4" fill="none" stroke-width="1.9" stroke-linejoin="round"/><use href="#m24" x="149.35" y="605"/><use href="#m24" x="159.1" y="629.6"/><use href="#m24" x="168.85" y="650.6"/><use href="#m24" x="178.6" y="671.5"/><use href="#m24" x="188.34" y="691.6"/><use href="#m24" x="198.09" y="709.8"/><use href="#m24" x="207.84" y="724.7"/><use href="#m24" x="217.59" y="737.5"/><use href="#m24" x="227.34" y="748.2"/><use href="#m24" x="237.09" y="757.3"/><use href="#m24" x="246.84" y="764.2"/><use href="#m24" x="256.59" y="769.7"/><use href="#m24" x="266.34" y="774.6"/><use href="#m24" x="276.09" y="777.9"/><use href="#m24" x="285.84" y="780.5"/><use href="#m24" x="295.58" y="782.5"/><use href="#m24" x="305.33" y="783.7"/><use href="#m24" x="315.08" y="784.6"/><use href="#m24" x="324.83" y="785.2"/><use href="#m24" x="334.58" y="785.9"/><use href="#m24" x="344.33" y="786.5"/><use href="#m24" x="354.08" y="786.9"/><use href="#m24" x="363.83" y="787.1"/><use href="#m24" x="373.58" y="787.3"/><use href="#m24" x="383.33" y="787.4"/><use href="#m24" x="393.07" y="787.4"/><use href="#m24" x="402.82" y="787.4"/><use href="#m24" x="412.57" y="787.4"/><use href="#m24" x="422.32" y="787.4"/><use href="#m24" x="432.07" y="787.4"/><use href="#m24" x="441.82" y="787.4"/><use href="#m24" x="451.57" y="787.4"/><use href="#m24" x="461.32" y="787.4"/><use href="#m24" x="471.07" y="787.4"/><use href="#m24" x="480.82" y="787.4"/><use href="#m24" x="490.56" y="787.4"/><use href="#m24" x="500.31" y="787.4"/><use href="#m24" x="510.06" y="787.4"/><use href="#m24" x="519.81" y="787.4"/></g><g stroke="#000" stroke-width="1" fill="none"><rect x="139.5" y="584.5" width="390" height="312"/><path d="M178.5 896.5 v-4 M178.5 584.5 v4 M217.5 896.5 v-4 M217.5 584.5 v4 M256.5 896.5 v-4 M256.5 584.5 v4 M295.5 896.5 v-4 M295.5 584.5 v4 M334.5 896.5 v-4 M334.5 584.5 v4 M373.5 896.5 v-4 M373.5 584.5 v4 M412.5 896.5 v-4 M412.5 584.5 v4 M451.5 896.5 v-4 M451.5 584.5 v4 M490.5 896.5 v-4 M490.5 584.5 v4 M139.5 636.5 h4 M529.5 636.5 h-4 M139.5 688.5 h4 M529.5 688.5 h-4 M139.5 740.5 h4 M529.5 740.5 h-4 M139.5 792.5 h4 M529.5 792.5 h-4 M139.5 844.5 h4 M529.5 844.5 h-4 "/></g><rect x="299.5" y="609.5" width="141" height="100" fill="#fff" stroke="#000" stroke-width="1"/><g stroke="#0000e6" fill="#0000e6"><path d="M305 619.5 H337.9" stroke="#0000b8" stroke-width="1.1"/><use href="#m25" x="321.5" y="619.5"/></g><g stroke="#e8000b" fill="#e8000b"><path d="M305 635 H337.9" stroke="#cf0008" stroke-width="2"/><use href="#m26" x="321.5" y="635"/></g><g stroke="#0000e6" fill="#0000e6"><path d="M305 651 H337.9" stroke="#0000b8" stroke-width="2"/><use href="#m16" x="321.5" y="651"/></g><g stroke="#e8000b" fill="#e8000b"><path d="M305 667 H337.9" stroke="#cf0008" stroke-width="2"/><use href="#m16" x="321.5" y="667"/></g><g stroke="#0000e6" fill="#0000e6"><path d="M305 683 H337.9" stroke="#0000b8" stroke-width="2"/><use href="#m27" x="321.5" y="683"/></g><g stroke="#e8000b" fill="#e8000b"><path d="M305 698.5 H337.9" stroke="#cf0008" stroke-width="1.1"/><use href="#m28" x="321.5" y="698.5"/></g>
<g stroke="#0000e6" fill="#0000e6"><polyline points="149.35,1029.1 159.1,1054.6 168.85,1079.2 178.6,1102 188.34,1125.3 198.09,1146.6 207.84,1166.8 217.59,1187 227.34,1203.7 237.09,1218.8 246.84,1232.9 256.59,1244.7 266.34,1254.4 276.09,1262.6 285.84,1268.9 295.58,1274.4 305.33,1279.8 315.08,1281.7 324.83,1284.5 334.58,1286.2 344.33,1288.2 354.08,1289.2 363.83,1290.1 373.58,1290.9 383.33,1292.1 393.07,1292.7 402.82,1292.6 412.57,1291.77 422.32,1291.53 432.07,1291.6 441.82,1291.62 451.57,1291.64 461.32,1291.67 471.07,1292.49 480.82,1292.71 490.56,1292.73 500.31,1292.76 510.06,1292.38 519.81,1292.8" fill="none" stroke-width="1.5" stroke-linejoin="round"/><use href="#m20" x="149.35" y="1029.1"/><use href="#m20" x="159.1" y="1054.6"/><use href="#m20" x="168.85" y="1079.2"/><use href="#m20" x="178.6" y="1102"/><use href="#m20" x="188.34" y="1125.3"/><use href="#m20" x="198.09" y="1146.6"/><use href="#m20" x="207.84" y="1166.8"/><use href="#m20" x="217.59" y="1187"/><use href="#m20" x="227.34" y="1203.7"/><use href="#m20" x="237.09" y="1218.8"/><use href="#m20" x="246.84" y="1232.9"/><use href="#m20" x="256.59" y="1244.7"/><use href="#m20" x="266.34" y="1254.4"/><use href="#m20" x="276.09" y="1262.6"/><use href="#m20" x="285.84" y="1268.9"/><use href="#m20" x="295.58" y="1274.4"/><use href="#m20" x="305.33" y="1279.8"/><use href="#m20" x="315.08" y="1281.7"/><use href="#m20" x="324.83" y="1284.5"/><use href="#m20" x="334.58" y="1286.2"/><use href="#m20" x="344.33" y="1288.2"/><use href="#m20" x="354.08" y="1289.2"/><use href="#m20" x="363.83" y="1290.1"/><use href="#m20" x="373.58" y="1290.9"/><use href="#m20" x="383.33" y="1292.1"/><use href="#m20" x="393.07" y="1292.7"/><use href="#m20" x="402.82" y="1292.6"/><use href="#m20" x="412.57" y="1291.77"/><use href="#m20" x="422.32" y="1291.53"/><use href="#m20" x="432.07" y="1291.6"/><use href="#m20" x="441.82" y="1291.62"/><use href="#m20" x="451.57" y="1291.64"/><use href="#m20" x="461.32" y="1291.67"/><use href="#m20" x="471.07" y="1292.49"/><use href="#m20" x="480.82" y="1292.71"/><use href="#m20" x="490.56" y="1292.73"/><use href="#m20" x="500.31" y="1292.76"/><use href="#m20" x="510.06" y="1292.38"/><use href="#m20" x="519.81" y="1292.8"/></g><g stroke="#e8000b" fill="#e8000b"><polyline points="149.35,1029.1 159.1,1054.6 168.85,1079.2 178.6,1102 188.34,1125.3 198.09,1146.6 207.84,1166.8 217.59,1187 227.34,1203.7 237.09,1218.8 246.84,1232.9 256.59,1244.7 266.34,1254.4 276.09,1262.6 285.84,1268.9 295.58,1274.4 305.33,1278.8 315.08,1281.7 324.83,1284.2 334.58,1285.9 344.33,1287.6 354.08,1288.9 363.83,1289.8 373.58,1290.3 383.33,1290.9 393.07,1291.3 402.82,1291.4 412.57,1291.47 422.32,1291.53 432.07,1291.6 441.82,1291.62 451.57,1291.64 461.32,1291.67 471.07,1291.69 480.82,1291.71 490.56,1291.73 500.31,1291.76 510.06,1291.78 519.81,1291.8" fill="none" stroke-width="1.9" stroke-linejoin="round"/><use href="#m21" x="149.35" y="1029.1"/><use href="#m21" x="159.1" y="1054.6"/><use href="#m21" x="168.85" y="1079.2"/><use href="#m21" x="178.6" y="1102"/><use href="#m21" x="188.34" y="1125.3"/><use href="#m21" x="198.09" y="1146.6"/><use href="#m21" x="207.84" y="1166.8"/><use href="#m21" x="217.59" y="1187"/><use href="#m21" x="227.34" y="1203.7"/><use href="#m21" x="237.09" y="1218.8"/><use href="#m21" x="246.84" y="1232.9"/><use href="#m21" x="256.59" y="1244.7"/><use href="#m21" x="266.34" y="1254.4"/><use href="#m21" x="276.09" y="1262.6"/><use href="#m21" x="285.84" y="1268.9"/><use href="#m21" x="295.58" y="1274.4"/><use href="#m21" x="305.33" y="1278.8"/><use href="#m21" x="315.08" y="1281.7"/><use href="#m21" x="324.83" y="1284.2"/><use href="#m21" x="334.58" y="1285.9"/><use href="#m21" x="344.33" y="1287.6"/><use href="#m21" x="354.08" y="1288.9"/><use href="#m21" x="363.83" y="1289.8"/><use href="#m21" x="373.58" y="1290.3"/><use href="#m21" x="383.33" y="1290.9"/><use href="#m21" x="393.07" y="1291.3"/><use href="#m21" x="402.82" y="1291.4"/><use href="#m21" x="412.57" y="1291.47"/><use href="#m21" x="422.32" y="1291.53"/><use href="#m21" x="432.07" y="1291.6"/><use href="#m21" x="441.82" y="1291.62"/><use href="#m21" x="451.57" y="1291.64"/><use href="#m21" x="461.32" y="1291.67"/><use href="#m21" x="471.07" y="1291.69"/><use href="#m21" x="480.82" y="1291.71"/><use href="#m21" x="490.56" y="1291.73"/><use href="#m21" x="500.31" y="1291.76"/><use href="#m21" x="510.06" y="1291.78"/><use href="#m21" x="519.81" y="1291.8"/></g><g stroke="#0000e6" fill="#0000e6"><polyline points="149.35,1028.2 159.1,1048.2 168.85,1066.4 178.6,1084.4 188.34,1100.7 198.09,1115.1 207.84,1127.8 217.59,1139.3 227.34,1149.1 237.09,1156.9 246.84,1163.9 256.59,1169.3 266.34,1174 276.09,1177.3 285.84,1180.3 295.58,1183.3 305.33,1184 315.08,1185.6 324.83,1186.8 334.58,1187.6 344.33,1187.9 354.08,1188.3 363.83,1189.1 373.58,1189.4 383.33,1189.5 393.07,1189.4 402.82,1189.5 412.57,1189.51 422.32,1189.52 432.07,1189.22 441.82,1189.23 451.57,1189.24 461.32,1189.25 471.07,1189.26 480.82,1188.97 490.56,1189.28 500.31,1188.98 510.06,1188.99 519.81,1189.3" fill="none" stroke-width="1.9" stroke-linejoin="round"/><use href="#m7" x="149.35" y="1028.2"/><use href="#m7" x="159.1" y="1048.2"/><use href="#m7" x="168.85" y="1066.4"/><use href="#m7" x="178.6" y="1084.4"/><use href="#m7" x="188.34" y="1100.7"/><use href="#m7" x="198.09" y="1115.1"/><use href="#m7" x="207.84" y="1127.8"/><use href="#m7" x="217.59" y="1139.3"/><use href="#m7" x="227.34" y="1149.1"/><use href="#m7" x="237.09" y="1156.9"/><use href="#m7" x="246.84" y="1163.9"/><use href="#m7" x="256.59" y="1169.3"/><use href="#m7" x="266.34" y="1174"/><use href="#m7" x="276.09" y="1177.3"/><use href="#m7" x="285.84" y="1180.3"/><use href="#m7" x="295.58" y="1183.3"/><use href="#m7" x="305.33" y="1184"/><use href="#m7" x="315.08" y="1185.6"/><use href="#m7" x="324.83" y="1186.8"/><use href="#m7" x="334.58" y="1187.6"/><use href="#m7" x="344.33" y="1187.9"/><use href="#m7" x="354.08" y="1188.3"/><use href="#m7" x="363.83" y="1189.1"/><use href="#m7" x="373.58" y="1189.4"/><use href="#m7" x="383.33" y="1189.5"/><use href="#m7" x="393.07" y="1189.4"/><use href="#m7" x="402.82" y="1189.5"/><use href="#m7" x="412.57" y="1189.51"/><use href="#m7" x="422.32" y="1189.52"/><use href="#m7" x="432.07" y="1189.22"/><use href="#m7" x="441.82" y="1189.23"/><use href="#m7" x="451.57" y="1189.24"/><use href="#m7" x="461.32" y="1189.25"/><use href="#m7" x="471.07" y="1189.26"/><use href="#m7" x="480.82" y="1188.97"/><use href="#m7" x="490.56" y="1189.28"/><use href="#m7" x="500.31" y="1188.98"/><use href="#m7" x="510.06" y="1188.99"/><use href="#m7" x="519.81" y="1189.3"/></g><g stroke="#e8000b" fill="#e8000b"><polyline points="149.35,1028.2 159.1,1047.7 168.85,1065.9 178.6,1083.8 188.34,1100.2 198.09,1114.8 207.84,1127.5 217.59,1139 227.34,1148.8 237.09,1156.6 246.84,1163.7 256.59,1169 266.34,1174 276.09,1177.3 285.84,1180 295.58,1182.8 305.33,1184 315.08,1185.1 324.83,1186.5 334.58,1187.3 344.33,1187.9 354.08,1188.3 363.83,1188.6 373.58,1188.9 383.33,1189 393.07,1189.1 402.82,1189.2 412.57,1189.21 422.32,1189.22 432.07,1189.22 441.82,1189.23 451.57,1189.24 461.32,1189.25 471.07,1189.26 480.82,1189.27 490.56,1189.28 500.31,1189.28 510.06,1189.29 519.81,1189.3" fill="none" stroke-width="1.9" stroke-linejoin="round"/><use href="#m7" x="149.35" y="1028.2"/><use href="#m7" x="159.1" y="1047.7"/><use href="#m7" x="168.85" y="1065.9"/><use href="#m7" x="178.6" y="1083.8"/><use href="#m7" x="188.34" y="1100.2"/><use href="#m7" x="198.09" y="1114.8"/><use href="#m7" x="207.84" y="1127.5"/><use href="#m7" x="217.59" y="1139"/><use href="#m7" x="227.34" y="1148.8"/><use href="#m7" x="237.09" y="1156.6"/><use href="#m7" x="246.84" y="1163.7"/><use href="#m7" x="256.59" y="1169"/><use href="#m7" x="266.34" y="1174"/><use href="#m7" x="276.09" y="1177.3"/><use href="#m7" x="285.84" y="1180"/><use href="#m7" x="295.58" y="1182.8"/><use href="#m7" x="305.33" y="1184"/><use href="#m7" x="315.08" y="1185.1"/><use href="#m7" x="324.83" y="1186.5"/><use href="#m7" x="334.58" y="1187.3"/><use href="#m7" x="344.33" y="1187.9"/><use href="#m7" x="354.08" y="1188.3"/><use href="#m7" x="363.83" y="1188.6"/><use href="#m7" x="373.58" y="1188.9"/><use href="#m7" x="383.33" y="1189"/><use href="#m7" x="393.07" y="1189.1"/><use href="#m7" x="402.82" y="1189.2"/><use href="#m7" x="412.57" y="1189.21"/><use href="#m7" x="422.32" y="1189.22"/><use href="#m7" x="432.07" y="1189.22"/><use href="#m7" x="441.82" y="1189.23"/><use href="#m7" x="451.57" y="1189.24"/><use href="#m7" x="461.32" y="1189.25"/><use href="#m7" x="471.07" y="1189.26"/><use href="#m7" x="480.82" y="1189.27"/><use href="#m7" x="490.56" y="1189.28"/><use href="#m7" x="500.31" y="1189.28"/><use href="#m7" x="510.06" y="1189.29"/><use href="#m7" x="519.81" y="1189.3"/></g><g stroke="#0000e6" fill="#0000e6"><polyline points="149.55,1022.8 159.7,1037.7 169.65,1051.1 179.4,1064.8 189.15,1077 198.79,1087.4 208.44,1096.4 218.09,1104.6 227.74,1110.8 237.39,1116.6 247.04,1121.1 256.69,1125 266.34,1128 276.09,1130.2 285.84,1131.7 295.58,1133 305.33,1134.3 315.08,1135.2 324.83,1135.9 334.58,1136.3 344.33,1136.7 354.08,1137 363.83,1137.3 373.58,1137.5 383.33,1137.7 393.07,1137.9 402.82,1138 412.57,1138.1 422.32,1138.2 432.07,1138.3 441.82,1138.35 451.57,1138.4 461.32,1138.45 471.07,1138.5 480.82,1138.52 490.56,1138.54 500.31,1138.56 510.06,1138.58 519.81,1138.6" fill="none" stroke-width="1.9" stroke-linejoin="round"/><use href="#m29" x="149.55" y="1022.8"/><use href="#m29" x="159.7" y="1037.7"/><use href="#m29" x="169.65" y="1051.1"/><use href="#m29" x="179.4" y="1064.8"/><use href="#m29" x="189.15" y="1077"/><use href="#m29" x="198.79" y="1087.4"/><use href="#m29" x="208.44" y="1096.4"/><use href="#m29" x="218.09" y="1104.6"/><use href="#m29" x="227.74" y="1110.8"/><use href="#m29" x="237.39" y="1116.6"/><use href="#m29" x="247.04" y="1121.1"/><use href="#m29" x="256.69" y="1125"/><use href="#m29" x="266.34" y="1128"/><use href="#m29" x="276.09" y="1130.2"/><use href="#m29" x="285.84" y="1131.7"/><use href="#m29" x="295.58" y="1133"/><use href="#m29" x="305.33" y="1134.3"/><use href="#m29" x="315.08" y="1135.2"/><use href="#m29" x="324.83" y="1135.9"/><use href="#m29" x="334.58" y="1136.3"/><use href="#m29" x="344.33" y="1136.7"/><use href="#m29" x="354.08" y="1137"/><use href="#m29" x="363.83" y="1137.3"/><use href="#m29" x="373.58" y="1137.5"/><use href="#m29" x="383.33" y="1137.7"/><use href="#m29" x="393.07" y="1137.9"/><use href="#m29" x="402.82" y="1138"/><use href="#m29" x="412.57" y="1138.1"/><use href="#m29" x="422.32" y="1138.2"/><use href="#m29" x="432.07" y="1138.3"/><use href="#m29" x="441.82" y="1138.35"/><use href="#m29" x="451.57" y="1138.4"/><use href="#m29" x="461.32" y="1138.45"/><use href="#m29" x="471.07" y="1138.5"/><use href="#m29" x="480.82" y="1138.52"/><use href="#m29" x="490.56" y="1138.54"/><use href="#m29" x="500.31" y="1138.56"/><use href="#m29" x="510.06" y="1138.58"/><use href="#m29" x="519.81" y="1138.6"/></g><g stroke="#e8000b" fill="#e8000b"><polyline points="149.35,1027 159.1,1041.5 168.85,1054.5 178.6,1068 188.34,1079.8 198.09,1089.8 207.84,1098.4 217.59,1106.2 227.34,1112 237.09,1117.5 246.84,1121.7 256.59,1125.3 266.34,1128 276.09,1130.2 285.84,1131.7 295.58,1133 305.33,1134.3 315.08,1135.2 324.83,1135.9 334.58,1136.3 344.33,1136.7 354.08,1137 363.83,1137.3 373.58,1137.5 383.33,1137.7 393.07,1137.9 402.82,1138 412.57,1138.1 422.32,1138.2 432.07,1138.3 441.82,1138.35 451.57,1138.4 461.32,1138.45 471.07,1138.5 480.82,1138.52 490.56,1138.54 500.31,1138.56 510.06,1138.58 519.81,1138.6" fill="none" stroke-width="1.9" stroke-linejoin="round"/><use href="#m30" x="149.35" y="1027"/><use href="#m30" x="159.1" y="1041.5"/><use href="#m30" x="168.85" y="1054.5"/><use href="#m30" x="178.6" y="1068"/><use href="#m30" x="188.34" y="1079.8"/><use href="#m30" x="198.09" y="1089.8"/><use href="#m30" x="207.84" y="1098.4"/><use href="#m30" x="217.59" y="1106.2"/><use href="#m30" x="227.34" y="1112"/><use href="#m30" x="237.09" y="1117.5"/><use href="#m30" x="246.84" y="1121.7"/><use href="#m30" x="256.59" y="1125.3"/><use href="#m30" x="266.34" y="1128"/><use href="#m30" x="276.09" y="1130.2"/><use href="#m30" x="285.84" y="1131.7"/><use href="#m30" x="295.58" y="1133"/><use href="#m30" x="305.33" y="1134.3"/><use href="#m30" x="315.08" y="1135.2"/><use href="#m30" x="324.83" y="1135.9"/><use href="#m30" x="334.58" y="1136.3"/><use href="#m30" x="344.33" y="1136.7"/><use href="#m30" x="354.08" y="1137"/><use href="#m30" x="363.83" y="1137.3"/><use href="#m30" x="373.58" y="1137.5"/><use href="#m30" x="383.33" y="1137.7"/><use href="#m30" x="393.07" y="1137.9"/><use href="#m30" x="402.82" y="1138"/><use href="#m30" x="412.57" y="1138.1"/><use href="#m30" x="422.32" y="1138.2"/><use href="#m30" x="432.07" y="1138.3"/><use href="#m30" x="441.82" y="1138.35"/><use href="#m30" x="451.57" y="1138.4"/><use href="#m30" x="461.32" y="1138.45"/><use href="#m30" x="471.07" y="1138.5"/><use href="#m30" x="480.82" y="1138.52"/><use href="#m30" x="490.56" y="1138.54"/><use href="#m30" x="500.31" y="1138.56"/><use href="#m30" x="510.06" y="1138.58"/><use href="#m30" x="519.81" y="1138.6"/></g><g stroke="#000" stroke-width="1" fill="none"><rect x="139.5" y="1010.5" width="390" height="312"/><path d="M178.5 1322.5 v-4 M178.5 1010.5 v4 M217.5 1322.5 v-4 M217.5 1010.5 v4 M256.5 1322.5 v-4 M256.5 1010.5 v4 M295.5 1322.5 v-4 M295.5 1010.5 v4 M334.5 1322.5 v-4 M334.5 1010.5 v4 M373.5 1322.5 v-4 M373.5 1010.5 v4 M412.5 1322.5 v-4 M412.5 1010.5 v4 M451.5 1322.5 v-4 M451.5 1010.5 v4 M490.5 1322.5 v-4 M490.5 1010.5 v4 M139.5 1061.5 h4 M529.5 1061.5 h-4 M139.5 1113.5 h4 M529.5 1113.5 h-4 M139.5 1165.8 h4 M529.5 1165.8 h-4 M139.5 1217.3 h4 M529.5 1217.3 h-4 M139.5 1269.4 h4 M529.5 1269.4 h-4 "/></g><rect x="299.5" y="1019.5" width="143" height="99" fill="#fff" stroke="#000" stroke-width="1"/><g stroke="#0000e6" fill="#0000e6"><path d="M306.1 1029.5 H339" stroke="#0000b8" stroke-width="1.1"/><use href="#m25" x="322.3" y="1029.5"/></g><g stroke="#e8000b" fill="#e8000b"><path d="M306.1 1045 H339" stroke="#cf0008" stroke-width="2"/><use href="#m26" x="322.3" y="1045"/></g><g stroke="#0000e6" fill="#0000e6"><path d="M306.1 1061 H339" stroke="#0000b8" stroke-width="2.3"/><use href="#m31" x="322.3" y="1061"/></g><g stroke="#e8000b" fill="#e8000b"><path d="M306.1 1076.5 H339" stroke="#cf0008" stroke-width="1.1"/><use href="#m17" x="322.3" y="1076.5"/></g><g stroke="#0000e6" fill="#0000e6"><path d="M306.1 1092.5 H339" stroke="#0000b8" stroke-width="1.1"/><use href="#m32" x="322.3" y="1092.5"/></g><g stroke="#e8000b" fill="#e8000b"><path d="M306.1 1108 H339" stroke="#cf0008" stroke-width="2"/><use href="#m12" x="322.3" y="1108"/></g>
<g stroke="#0000e6" fill="#0000e6"><polyline points="666.91,484.2 676.23,497.9 685.54,510.6 694.85,523.4 704.17,535 713.48,545.6 722.79,556.2 732.1,566 741.42,575.7 750.73,584.8 760.04,592.6 769.36,599.3 778.67,605 787.98,609.9 797.3,614.7 806.61,619.3 815.92,622.5 825.23,625.5 834.55,628.7 843.86,631.5 853.17,633.5 862.49,635.1 871.8,636.4 881.11,637.3 890.43,638.2 899.74,639.1 909.05,639.7 918.36,640.4 927.68,641.3 936.99,641.5 946.3,642.2 955.62,642.4 964.93,642.8 974.24,643 983.56,643.1 992.87,643.2 1002.18,643.2 1011.49,643.2 1020.81,643.2" fill="none" stroke-width="2.25" stroke-linejoin="round"/><use href="#m33" x="666.91" y="484.2"/><use href="#m33" x="676.23" y="497.9"/><use href="#m33" x="685.54" y="510.6"/><use href="#m33" x="694.85" y="523.4"/><use href="#m33" x="704.17" y="535"/><use href="#m33" x="713.48" y="545.6"/><use href="#m33" x="722.79" y="556.2"/><use href="#m33" x="732.1" y="566"/><use href="#m33" x="741.42" y="575.7"/><use href="#m33" x="750.73" y="584.8"/><use href="#m33" x="760.04" y="592.6"/><use href="#m33" x="769.36" y="599.3"/><use href="#m33" x="778.67" y="605"/><use href="#m33" x="787.98" y="609.9"/><use href="#m33" x="797.3" y="614.7"/><use href="#m33" x="806.61" y="619.3"/><use href="#m33" x="815.92" y="622.5"/><use href="#m33" x="825.23" y="625.5"/><use href="#m33" x="834.55" y="628.7"/><use href="#m33" x="843.86" y="631.5"/><use href="#m33" x="853.17" y="633.5"/><use href="#m33" x="862.49" y="635.1"/><use href="#m33" x="871.8" y="636.4"/><use href="#m33" x="881.11" y="637.3"/><use href="#m33" x="890.43" y="638.2"/><use href="#m33" x="899.74" y="639.1"/><use href="#m33" x="909.05" y="639.7"/><use href="#m33" x="918.36" y="640.4"/><use href="#m33" x="927.68" y="641.3"/><use href="#m33" x="936.99" y="641.5"/><use href="#m33" x="946.3" y="642.2"/><use href="#m33" x="955.62" y="642.4"/><use href="#m33" x="964.93" y="642.8"/><use href="#m33" x="974.24" y="643"/><use href="#m33" x="983.56" y="643.1"/><use href="#m33" x="992.87" y="643.2"/><use href="#m33" x="1002.18" y="643.2"/><use href="#m33" x="1011.49" y="643.2"/><use href="#m33" x="1020.81" y="643.2"/></g><g stroke="#e8000b" fill="#e8000b"><polyline points="657.6,643.2 666.91,643.2 676.23,643.2 685.54,643.2 694.85,643.2 704.17,643.2 713.48,643.2 722.79,643.2 732.1,643.2 741.42,643.2 750.73,643.2 760.04,643.2 769.36,643.2 778.67,643.2 787.98,643.2 797.3,643.2 806.61,643.2 815.92,643.2 825.23,643.2 834.55,643.2 843.86,643.2 853.17,643.2 862.49,643.2 871.8,643.2 881.11,643.2 890.43,643.2 899.74,643.2 909.05,643.2 918.36,643.2 927.68,643.2 936.99,643.2 946.3,643.2 955.62,643.2 964.93,643.2 974.24,643.2 983.56,643.2 992.87,643.2 1002.18,643.2 1011.49,643.2 1020.81,643.2" fill="none" stroke-width="2.25" stroke-linejoin="round"/><use href="#m33" x="657.6" y="643.2"/><use href="#m33" x="666.91" y="643.2"/><use href="#m33" x="676.23" y="643.2"/><use href="#m33" x="685.54" y="643.2"/><use href="#m33" x="694.85" y="643.2"/><use href="#m33" x="704.17" y="643.2"/><use href="#m33" x="713.48" y="643.2"/><use href="#m33" x="722.79" y="643.2"/><use href="#m33" x="732.1" y="643.2"/><use href="#m33" x="741.42" y="643.2"/><use href="#m33" x="750.73" y="643.2"/><use href="#m33" x="760.04" y="643.2"/><use href="#m33" x="769.36" y="643.2"/><use href="#m33" x="778.67" y="643.2"/><use href="#m33" x="787.98" y="643.2"/><use href="#m33" x="797.3" y="643.2"/><use href="#m33" x="806.61" y="643.2"/><use href="#m33" x="815.92" y="643.2"/><use href="#m33" x="825.23" y="643.2"/><use href="#m33" x="834.55" y="643.2"/><use href="#m33" x="843.86" y="643.2"/><use href="#m33" x="853.17" y="643.2"/><use href="#m33" x="862.49" y="643.2"/><use href="#m33" x="871.8" y="643.2"/><use href="#m33" x="881.11" y="643.2"/><use href="#m33" x="890.43" y="643.2"/><use href="#m33" x="899.74" y="643.2"/><use href="#m33" x="909.05" y="643.2"/><use href="#m33" x="918.36" y="643.2"/><use href="#m33" x="927.68" y="643.2"/><use href="#m33" x="936.99" y="643.2"/><use href="#m33" x="946.3" y="643.2"/><use href="#m33" x="955.62" y="643.2"/><use href="#m33" x="964.93" y="643.2"/><use href="#m33" x="974.24" y="643.2"/><use href="#m33" x="983.56" y="643.2"/><use href="#m33" x="992.87" y="643.2"/><use href="#m33" x="1002.18" y="643.2"/><use href="#m33" x="1011.49" y="643.2"/><use href="#m33" x="1020.81" y="643.2"/></g><g stroke="#0000e6" fill="#0000e6"><polyline points="666.91,499.2 676.23,527.4 685.54,554.7 694.85,580.6 704.17,605.2 713.48,626.5 722.79,643.7 732.1,658.6 741.42,670.1 750.73,678.9 760.04,685.2 769.36,690.7 778.67,694.7 787.98,697.1 797.3,699.6 806.61,700.5 815.92,700.5 825.23,699.6 834.55,701.1 843.86,702.9 853.17,702.5 862.49,702 871.8,702.8 881.11,703 890.43,702.5 899.74,702 909.05,702.5 918.36,703 927.68,701 936.99,701 946.3,701.2 955.62,702 964.93,702.5 974.24,702.8 983.56,701 992.87,699.3 1002.18,701 1011.49,701.5 1020.81,702" fill="none" stroke-width="2.25" stroke-linejoin="round"/><use href="#m34" x="666.91" y="499.2"/><use href="#m34" x="676.23" y="527.4"/><use href="#m34" x="685.54" y="554.7"/><use href="#m34" x="694.85" y="580.6"/><use href="#m34" x="704.17" y="605.2"/><use href="#m34" x="713.48" y="626.5"/><use href="#m34" x="722.79" y="643.7"/><use href="#m34" x="732.1" y="658.6"/><use href="#m34" x="741.42" y="670.1"/><use href="#m34" x="750.73" y="678.9"/><use href="#m34" x="760.04" y="685.2"/><use href="#m34" x="769.36" y="690.7"/><use href="#m34" x="778.67" y="694.7"/><use href="#m34" x="787.98" y="697.1"/><use href="#m34" x="797.3" y="699.6"/><use href="#m34" x="806.61" y="700.5"/><use href="#m34" x="815.92" y="700.5"/><use href="#m34" x="825.23" y="699.6"/><use href="#m34" x="834.55" y="701.1"/><use href="#m34" x="843.86" y="702.9"/><use href="#m34" x="853.17" y="702.5"/><use href="#m34" x="862.49" y="702"/><use href="#m34" x="871.8" y="702.8"/><use href="#m34" x="881.11" y="703"/><use href="#m34" x="890.43" y="702.5"/><use href="#m34" x="899.74" y="702"/><use href="#m34" x="909.05" y="702.5"/><use href="#m34" x="918.36" y="703"/><use href="#m34" x="927.68" y="701"/><use href="#m34" x="936.99" y="701"/><use href="#m34" x="946.3" y="701.2"/><use href="#m34" x="955.62" y="702"/><use href="#m34" x="964.93" y="702.5"/><use href="#m34" x="974.24" y="702.8"/><use href="#m34" x="983.56" y="701"/><use href="#m34" x="992.87" y="699.3"/><use href="#m34" x="1002.18" y="701"/><use href="#m34" x="1011.49" y="701.5"/><use href="#m34" x="1020.81" y="702"/></g><g stroke="#e8000b" fill="#e8000b"><polyline points="657.6,702 666.91,702 676.23,702 685.54,702 694.85,702 704.17,702 713.48,702 722.79,702 732.1,702 741.42,702 750.73,702 760.04,702 769.36,702 778.67,702 787.98,702 797.3,702 806.61,702 815.92,702 825.23,702 834.55,702 843.86,702 853.17,702 862.49,702 871.8,702 881.11,702 890.43,702 899.74,702 909.05,702 918.36,702 927.68,702 936.99,702 946.3,702 955.62,702 964.93,702 974.24,702 983.56,702 992.87,702 1002.18,702 1011.49,702 1020.81,702" fill="none" stroke-width="2.25" stroke-linejoin="round"/><use href="#m34" x="657.6" y="702"/><use href="#m34" x="666.91" y="702"/><use href="#m34" x="676.23" y="702"/><use href="#m34" x="685.54" y="702"/><use href="#m34" x="694.85" y="702"/><use href="#m34" x="704.17" y="702"/><use href="#m34" x="713.48" y="702"/><use href="#m34" x="722.79" y="702"/><use href="#m34" x="732.1" y="702"/><use href="#m34" x="741.42" y="702"/><use href="#m34" x="750.73" y="702"/><use href="#m34" x="760.04" y="702"/><use href="#m34" x="769.36" y="702"/><use href="#m34" x="778.67" y="702"/><use href="#m34" x="787.98" y="702"/><use href="#m34" x="797.3" y="702"/><use href="#m34" x="806.61" y="702"/><use href="#m34" x="815.92" y="702"/><use href="#m34" x="825.23" y="702"/><use href="#m34" x="834.55" y="702"/><use href="#m34" x="843.86" y="702"/><use href="#m34" x="853.17" y="702"/><use href="#m34" x="862.49" y="702"/><use href="#m34" x="871.8" y="702"/><use href="#m34" x="881.11" y="702"/><use href="#m34" x="890.43" y="702"/><use href="#m34" x="899.74" y="702"/><use href="#m34" x="909.05" y="702"/><use href="#m34" x="918.36" y="702"/><use href="#m34" x="927.68" y="702"/><use href="#m34" x="936.99" y="702"/><use href="#m34" x="946.3" y="702"/><use href="#m34" x="955.62" y="702"/><use href="#m34" x="964.93" y="702"/><use href="#m34" x="974.24" y="702"/><use href="#m34" x="983.56" y="702"/><use href="#m34" x="992.87" y="702"/><use href="#m34" x="1002.18" y="702"/><use href="#m34" x="1011.49" y="702"/><use href="#m34" x="1020.81" y="702"/></g><g stroke="#0000e6" fill="#0000e6"><polyline points="667.41,526.5 676.73,584.8 686.04,637.9 695.35,680.5 704.67,712.9 713.98,733 723.29,745.7 732.6,750.8 741.92,755.4 751.23,753.9 760.54,754.5 769.86,754 779.17,755 788.48,755.5 797.8,754.5 807.11,754 816.42,754.5 825.73,756 835.05,757.5 844.36,757 853.67,755 862.99,754.5 872.3,754 881.61,754 890.93,754.5 900.24,754.5 909.55,755.5 918.86,755 928.18,754.5 937.49,755.5 946.8,756.5 956.12,756.5 965.43,755.5 974.74,754.5 984.06,755 993.37,755 1002.68,756 1011.99,755 1021.31,756.5" fill="none" stroke-width="2.25" stroke-linejoin="round"/><use href="#m35" x="667.41" y="526.5"/><use href="#m35" x="676.73" y="584.8"/><use href="#m35" x="686.04" y="637.9"/><use href="#m35" x="695.35" y="680.5"/><use href="#m35" x="704.67" y="712.9"/><use href="#m35" x="713.98" y="733"/><use href="#m35" x="723.29" y="745.7"/><use href="#m35" x="732.6" y="750.8"/><use href="#m35" x="741.92" y="755.4"/><use href="#m35" x="751.23" y="753.9"/><use href="#m35" x="760.54" y="754.5"/><use href="#m35" x="769.86" y="754"/><use href="#m35" x="779.17" y="755"/><use href="#m35" x="788.48" y="755.5"/><use href="#m35" x="797.8" y="754.5"/><use href="#m35" x="807.11" y="754"/><use href="#m35" x="816.42" y="754.5"/><use href="#m35" x="825.73" y="756"/><use href="#m35" x="835.05" y="757.5"/><use href="#m35" x="844.36" y="757"/><use href="#m35" x="853.67" y="755"/><use href="#m35" x="862.99" y="754.5"/><use href="#m35" x="872.3" y="754"/><use href="#m35" x="881.61" y="754"/><use href="#m35" x="890.93" y="754.5"/><use href="#m35" x="900.24" y="754.5"/><use href="#m35" x="909.55" y="755.5"/><use href="#m35" x="918.86" y="755"/><use href="#m35" x="928.18" y="754.5"/><use href="#m35" x="937.49" y="755.5"/><use href="#m35" x="946.8" y="756.5"/><use href="#m35" x="956.12" y="756.5"/><use href="#m35" x="965.43" y="755.5"/><use href="#m35" x="974.74" y="754.5"/><use href="#m35" x="984.06" y="755"/><use href="#m35" x="993.37" y="755"/><use href="#m35" x="1002.68" y="756"/><use href="#m35" x="1011.99" y="755"/><use href="#m35" x="1021.31" y="756.5"/></g><g stroke="#e8000b" fill="#e8000b"><polyline points="657.6,752 666.91,752 676.23,752 685.54,752 694.85,752 704.17,752 713.48,752 722.79,752 732.1,752 741.42,752 750.73,752 760.04,752 769.36,752 778.67,752 787.98,752 797.3,752 806.61,752 815.92,752 825.23,752 834.55,752 843.86,752 853.17,752 862.49,752 871.8,752 881.11,752 890.43,752 899.74,752 909.05,752 918.36,752 927.68,752 936.99,752 946.3,752 955.62,752 964.93,752 974.24,752 983.56,752 992.87,752 1002.18,752 1011.49,752 1020.81,752" fill="none" stroke-width="2.25" stroke-linejoin="round"/><use href="#m35" x="657.6" y="752"/><use href="#m35" x="666.91" y="752"/><use href="#m35" x="676.23" y="752"/><use href="#m35" x="685.54" y="752"/><use href="#m35" x="694.85" y="752"/><use href="#m35" x="704.17" y="752"/><use href="#m35" x="713.48" y="752"/><use href="#m35" x="722.79" y="752"/><use href="#m35" x="732.1" y="752"/><use href="#m35" x="741.42" y="752"/><use href="#m35" x="750.73" y="752"/><use href="#m35" x="760.04" y="752"/><use href="#m35" x="769.36" y="752"/><use href="#m35" x="778.67" y="752"/><use href="#m35" x="787.98" y="752"/><use href="#m35" x="797.3" y="752"/><use href="#m35" x="806.61" y="752"/><use href="#m35" x="815.92" y="752"/><use href="#m35" x="825.23" y="752"/><use href="#m35" x="834.55" y="752"/><use href="#m35" x="843.86" y="752"/><use href="#m35" x="853.17" y="752"/><use href="#m35" x="862.49" y="752"/><use href="#m35" x="871.8" y="752"/><use href="#m35" x="881.11" y="752"/><use href="#m35" x="890.43" y="752"/><use href="#m35" x="899.74" y="752"/><use href="#m35" x="909.05" y="752"/><use href="#m35" x="918.36" y="752"/><use href="#m35" x="927.68" y="752"/><use href="#m35" x="936.99" y="752"/><use href="#m35" x="946.3" y="752"/><use href="#m35" x="955.62" y="752"/><use href="#m35" x="964.93" y="752"/><use href="#m35" x="974.24" y="752"/><use href="#m35" x="983.56" y="752"/><use href="#m35" x="992.87" y="752"/><use href="#m35" x="1002.18" y="752"/><use href="#m35" x="1011.49" y="752"/><use href="#m35" x="1020.81" y="752"/></g><g stroke="#000" stroke-width="1" fill="none"><rect x="658.5" y="473.5" width="372" height="298"/><path d="M732.5 771.5 v-4 M732.5 473.5 v4 M806.5 771.5 v-4 M806.5 473.5 v4 M880.6 771.5 v-4 M880.6 473.5 v4 M955.1 771.5 v-4 M955.1 473.5 v4 M658.5 522.4 h4 M1030.5 522.4 h-4 M658.5 572.2 h4 M1030.5 572.2 h-4 M658.5 621.4 h4 M1030.5 621.4 h-4 M658.5 671.2 h4 M1030.5 671.2 h-4 M658.5 720.4 h4 M1030.5 720.4 h-4 "/></g><rect x="755.5" y="472.5" width="271" height="119" fill="#fff" stroke="#000" stroke-width="1"/><g stroke="#0000e6" fill="#0000e6"><path d="M763 484 H801.9" stroke="#0000b8" stroke-width="2.25"/><use href="#m33" x="782.5" y="484"/></g><g stroke="#e8000b" fill="#e8000b"><path d="M763 502 H801.9" stroke="#cf0008" stroke-width="2.25"/><use href="#m33" x="782.5" y="502"/></g><g stroke="#0000e6" fill="#0000e6"><path d="M763 522 H801.9" stroke="#0000b8" stroke-width="2.25"/><use href="#m34" x="782.5" y="522"/></g><g stroke="#e8000b" fill="#e8000b"><path d="M763 541 H801.9" stroke="#cf0008" stroke-width="2.25"/><use href="#m34" x="782.5" y="541"/></g><g stroke="#0000e6" fill="#0000e6"><path d="M763 560 H801.9" stroke="#0000b8" stroke-width="2.25"/><use href="#m35" x="782.5" y="560"/></g><g stroke="#e8000b" fill="#e8000b"><path d="M763 579 H801.9" stroke="#cf0008" stroke-width="2.25"/><use href="#m35" x="782.5" y="579"/></g>
<g stroke="#0000e6" fill="#0000e6"><polyline points="666.91,890.1 676.23,903.7 685.54,917.9 694.85,931 704.17,944.3 713.48,957.4 722.79,970.2 732.1,981.1 741.42,992.1 750.73,1003.9 760.04,1013.9 769.36,1023.3 778.67,1032.3 787.98,1040.5 797.3,1048.3 806.61,1055.1 815.92,1062 825.23,1066.9 834.55,1072 843.86,1076.9 853.17,1079.7 862.49,1083.7 871.8,1086.4 881.11,1088.4 890.43,1090.2 899.74,1093.3 909.05,1094.2 918.36,1096.1 927.68,1097.3 936.99,1098.2 946.3,1099.2 955.62,1099.7 964.93,1099.9 974.24,1100 983.56,1100.2 992.87,1100.6 1002.18,1100.9 1011.49,1101.3 1020.81,1101.5" fill="none" stroke-width="2.25" stroke-linejoin="round"/><use href="#m33" x="666.91" y="890.1"/><use href="#m33" x="676.23" y="903.7"/><use href="#m33" x="685.54" y="917.9"/><use href="#m33" x="694.85" y="931"/><use href="#m33" x="704.17" y="944.3"/><use href="#m33" x="713.48" y="957.4"/><use href="#m33" x="722.79" y="970.2"/><use href="#m33" x="732.1" y="981.1"/><use href="#m33" x="741.42" y="992.1"/><use href="#m33" x="750.73" y="1003.9"/><use href="#m33" x="760.04" y="1013.9"/><use href="#m33" x="769.36" y="1023.3"/><use href="#m33" x="778.67" y="1032.3"/><use href="#m33" x="787.98" y="1040.5"/><use href="#m33" x="797.3" y="1048.3"/><use href="#m33" x="806.61" y="1055.1"/><use href="#m33" x="815.92" y="1062"/><use href="#m33" x="825.23" y="1066.9"/><use href="#m33" x="834.55" y="1072"/><use href="#m33" x="843.86" y="1076.9"/><use href="#m33" x="853.17" y="1079.7"/><use href="#m33" x="862.49" y="1083.7"/><use href="#m33" x="871.8" y="1086.4"/><use href="#m33" x="881.11" y="1088.4"/><use href="#m33" x="890.43" y="1090.2"/><use href="#m33" x="899.74" y="1093.3"/><use href="#m33" x="909.05" y="1094.2"/><use href="#m33" x="918.36" y="1096.1"/><use href="#m33" x="927.68" y="1097.3"/><use href="#m33" x="936.99" y="1098.2"/><use href="#m33" x="946.3" y="1099.2"/><use href="#m33" x="955.62" y="1099.7"/><use href="#m33" x="964.93" y="1099.9"/><use href="#m33" x="974.24" y="1100"/><use href="#m33" x="983.56" y="1100.2"/><use href="#m33" x="992.87" y="1100.6"/><use href="#m33" x="1002.18" y="1100.9"/><use href="#m33" x="1011.49" y="1101.3"/><use href="#m33" x="1020.81" y="1101.5"/></g><g stroke="#e8000b" fill="#e8000b"><polyline points="657.6,1104.8 666.91,1104.8 676.23,1104.8 685.54,1104.8 694.85,1104.8 704.17,1104.8 713.48,1104.8 722.79,1104.8 732.1,1104.8 741.42,1104.8 750.73,1104.8 760.04,1104.8 769.36,1104.8 778.67,1104.8 787.98,1104.8 797.3,1104.8 806.61,1104.8 815.92,1104.8 825.23,1104.8 834.55,1104.8 843.86,1104.8 853.17,1104.8 862.49,1104.8 871.8,1104.8 881.11,1104.8 890.43,1104.8 899.74,1104.8 909.05,1104.8 918.36,1104.8 927.68,1104.8 936.99,1104.8 946.3,1104.8 955.62,1104.8 964.93,1104.8 974.24,1104.8 983.56,1104.8 992.87,1104.8 1002.18,1104.8 1011.49,1104.8 1020.81,1104.8" fill="none" stroke-width="2.25" stroke-linejoin="round"/><use href="#m33" x="657.6" y="1104.8"/><use href="#m33" x="666.91" y="1104.8"/><use href="#m33" x="676.23" y="1104.8"/><use href="#m33" x="685.54" y="1104.8"/><use href="#m33" x="694.85" y="1104.8"/><use href="#m33" x="704.17" y="1104.8"/><use href="#m33" x="713.48" y="1104.8"/><use href="#m33" x="722.79" y="1104.8"/><use href="#m33" x="732.1" y="1104.8"/><use href="#m33" x="741.42" y="1104.8"/><use href="#m33" x="750.73" y="1104.8"/><use href="#m33" x="760.04" y="1104.8"/><use href="#m33" x="769.36" y="1104.8"/><use href="#m33" x="778.67" y="1104.8"/><use href="#m33" x="787.98" y="1104.8"/><use href="#m33" x="797.3" y="1104.8"/><use href="#m33" x="806.61" y="1104.8"/><use href="#m33" x="815.92" y="1104.8"/><use href="#m33" x="825.23" y="1104.8"/><use href="#m33" x="834.55" y="1104.8"/><use href="#m33" x="843.86" y="1104.8"/><use href="#m33" x="853.17" y="1104.8"/><use href="#m33" x="862.49" y="1104.8"/><use href="#m33" x="871.8" y="1104.8"/><use href="#m33" x="881.11" y="1104.8"/><use href="#m33" x="890.43" y="1104.8"/><use href="#m33" x="899.74" y="1104.8"/><use href="#m33" x="909.05" y="1104.8"/><use href="#m33" x="918.36" y="1104.8"/><use href="#m33" x="927.68" y="1104.8"/><use href="#m33" x="936.99" y="1104.8"/><use href="#m33" x="946.3" y="1104.8"/><use href="#m33" x="955.62" y="1104.8"/><use href="#m33" x="964.93" y="1104.8"/><use href="#m33" x="974.24" y="1104.8"/><use href="#m33" x="983.56" y="1104.8"/><use href="#m33" x="992.87" y="1104.8"/><use href="#m33" x="1002.18" y="1104.8"/><use href="#m33" x="1011.49" y="1104.8"/><use href="#m33" x="1020.81" y="1104.8"/></g><g stroke="#0000e6" fill="#0000e6"><polyline points="666.91,897.9 676.23,919.2 685.54,943.4 694.85,965.3 704.17,986 713.48,1006.3 722.79,1026.2 732.1,1044.7 741.42,1060.5 750.73,1075.5 760.04,1088.8 769.36,1099.7 778.67,1108.8 787.98,1117.4 797.3,1124.3 806.61,1128.3 815.92,1130.7 825.23,1133 834.55,1134.6 843.86,1136.1 853.17,1137.4 862.49,1138.5 871.8,1139.8 881.11,1140 890.43,1140.2 899.74,1141 909.05,1141.6 918.36,1141.6 927.68,1141.6 936.99,1141.8 946.3,1142.5 955.62,1141.6 964.93,1141.6 974.24,1142.5 983.56,1142.5 992.87,1141.6 1002.18,1141.6 1011.49,1141 1020.81,1141.6" fill="none" stroke-width="2.25" stroke-linejoin="round"/><use href="#m36" x="666.91" y="897.9"/><use href="#m36" x="676.23" y="919.2"/><use href="#m36" x="685.54" y="943.4"/><use href="#m36" x="694.85" y="965.3"/><use href="#m36" x="704.17" y="986"/><use href="#m36" x="713.48" y="1006.3"/><use href="#m36" x="722.79" y="1026.2"/><use href="#m36" x="732.1" y="1044.7"/><use href="#m36" x="741.42" y="1060.5"/><use href="#m36" x="750.73" y="1075.5"/><use href="#m36" x="760.04" y="1088.8"/><use href="#m36" x="769.36" y="1099.7"/><use href="#m36" x="778.67" y="1108.8"/><use href="#m36" x="787.98" y="1117.4"/><use href="#m36" x="797.3" y="1124.3"/><use href="#m36" x="806.61" y="1128.3"/><use href="#m36" x="815.92" y="1130.7"/><use href="#m36" x="825.23" y="1133"/><use href="#m36" x="834.55" y="1134.6"/><use href="#m36" x="843.86" y="1136.1"/><use href="#m36" x="853.17" y="1137.4"/><use href="#m36" x="862.49" y="1138.5"/><use href="#m36" x="871.8" y="1139.8"/><use href="#m36" x="881.11" y="1140"/><use href="#m36" x="890.43" y="1140.2"/><use href="#m36" x="899.74" y="1141"/><use href="#m36" x="909.05" y="1141.6"/><use href="#m36" x="918.36" y="1141.6"/><use href="#m36" x="927.68" y="1141.6"/><use href="#m36" x="936.99" y="1141.8"/><use href="#m36" x="946.3" y="1142.5"/><use href="#m36" x="955.62" y="1141.6"/><use href="#m36" x="964.93" y="1141.6"/><use href="#m36" x="974.24" y="1142.5"/><use href="#m36" x="983.56" y="1142.5"/><use href="#m36" x="992.87" y="1141.6"/><use href="#m36" x="1002.18" y="1141.6"/><use href="#m36" x="1011.49" y="1141"/><use href="#m36" x="1020.81" y="1141.6"/></g><g stroke="#e8000b" fill="#e8000b"><polyline points="657.6,1141.6 666.91,1141.6 676.23,1141.6 685.54,1141.6 694.85,1141.6 704.17,1141.6 713.48,1141.6 722.79,1141.6 732.1,1141.6 741.42,1141.6 750.73,1141.6 760.04,1141.6 769.36,1141.6 778.67,1141.6 787.98,1141.6 797.3,1141.6 806.61,1141.6 815.92,1141.6 825.23,1141.6 834.55,1141.6 843.86,1141.6 853.17,1141.6 862.49,1141.6 871.8,1141.6 881.11,1141.6 890.43,1141.6 899.74,1141.6 909.05,1141.6 918.36,1141.6 927.68,1141.6 936.99,1141.6 946.3,1141.6 955.62,1141.6 964.93,1141.6 974.24,1141.6 983.56,1141.6 992.87,1141.6 1002.18,1141.6 1011.49,1141.6 1020.81,1141.6" fill="none" stroke-width="2.25" stroke-linejoin="round"/><use href="#m36" x="657.6" y="1141.6"/><use href="#m36" x="666.91" y="1141.6"/><use href="#m36" x="676.23" y="1141.6"/><use href="#m36" x="685.54" y="1141.6"/><use href="#m36" x="694.85" y="1141.6"/><use href="#m36" x="704.17" y="1141.6"/><use href="#m36" x="713.48" y="1141.6"/><use href="#m36" x="722.79" y="1141.6"/><use href="#m36" x="732.1" y="1141.6"/><use href="#m36" x="741.42" y="1141.6"/><use href="#m36" x="750.73" y="1141.6"/><use href="#m36" x="760.04" y="1141.6"/><use href="#m36" x="769.36" y="1141.6"/><use href="#m36" x="778.67" y="1141.6"/><use href="#m36" x="787.98" y="1141.6"/><use href="#m36" x="797.3" y="1141.6"/><use href="#m36" x="806.61" y="1141.6"/><use href="#m36" x="815.92" y="1141.6"/><use href="#m36" x="825.23" y="1141.6"/><use href="#m36" x="834.55" y="1141.6"/><use href="#m36" x="843.86" y="1141.6"/><use href="#m36" x="853.17" y="1141.6"/><use href="#m36" x="862.49" y="1141.6"/><use href="#m36" x="871.8" y="1141.6"/><use href="#m36" x="881.11" y="1141.6"/><use href="#m36" x="890.43" y="1141.6"/><use href="#m36" x="899.74" y="1141.6"/><use href="#m36" x="909.05" y="1141.6"/><use href="#m36" x="918.36" y="1141.6"/><use href="#m36" x="927.68" y="1141.6"/><use href="#m36" x="936.99" y="1141.6"/><use href="#m36" x="946.3" y="1141.6"/><use href="#m36" x="955.62" y="1141.6"/><use href="#m36" x="964.93" y="1141.6"/><use href="#m36" x="974.24" y="1141.6"/><use href="#m36" x="983.56" y="1141.6"/><use href="#m36" x="992.87" y="1141.6"/><use href="#m36" x="1002.18" y="1141.6"/><use href="#m36" x="1011.49" y="1141.6"/><use href="#m36" x="1020.81" y="1141.6"/></g><g stroke="#0000e6" fill="#0000e6"><polyline points="666.91,904.1 676.23,932.9 685.54,962 694.85,990.8 704.17,1018.2 713.48,1043.6 722.79,1066 732.1,1086 741.42,1103.9 750.73,1118.5 760.04,1130.1 769.36,1139.8 778.67,1146.1 787.98,1151.2 797.3,1155.3 806.61,1157.1 815.92,1157.1 825.23,1157.6 834.55,1159.8 843.86,1162.2 853.17,1161.6 862.49,1161.5 871.8,1161.5 881.11,1162.9 890.43,1161.5 899.74,1161 909.05,1161.5 918.36,1163.5 927.68,1159.8 936.99,1159.8 946.3,1159.8 955.62,1160.5 964.93,1161 974.24,1161 983.56,1160.5 992.87,1158 1002.18,1161 1011.49,1160.5 1020.81,1160.7" fill="none" stroke-width="2.25" stroke-linejoin="round"/><use href="#m34" x="666.91" y="904.1"/><use href="#m34" x="676.23" y="932.9"/><use href="#m34" x="685.54" y="962"/><use href="#m34" x="694.85" y="990.8"/><use href="#m34" x="704.17" y="1018.2"/><use href="#m34" x="713.48" y="1043.6"/><use href="#m34" x="722.79" y="1066"/><use href="#m34" x="732.1" y="1086"/><use href="#m34" x="741.42" y="1103.9"/><use href="#m34" x="750.73" y="1118.5"/><use href="#m34" x="760.04" y="1130.1"/><use href="#m34" x="769.36" y="1139.8"/><use href="#m34" x="778.67" y="1146.1"/><use href="#m34" x="787.98" y="1151.2"/><use href="#m34" x="797.3" y="1155.3"/><use href="#m34" x="806.61" y="1157.1"/><use href="#m34" x="815.92" y="1157.1"/><use href="#m34" x="825.23" y="1157.6"/><use href="#m34" x="834.55" y="1159.8"/><use href="#m34" x="843.86" y="1162.2"/><use href="#m34" x="853.17" y="1161.6"/><use href="#m34" x="862.49" y="1161.5"/><use href="#m34" x="871.8" y="1161.5"/><use href="#m34" x="881.11" y="1162.9"/><use href="#m34" x="890.43" y="1161.5"/><use href="#m34" x="899.74" y="1161"/><use href="#m34" x="909.05" y="1161.5"/><use href="#m34" x="918.36" y="1163.5"/><use href="#m34" x="927.68" y="1159.8"/><use href="#m34" x="936.99" y="1159.8"/><use href="#m34" x="946.3" y="1159.8"/><use href="#m34" x="955.62" y="1160.5"/><use href="#m34" x="964.93" y="1161"/><use href="#m34" x="974.24" y="1161"/><use href="#m34" x="983.56" y="1160.5"/><use href="#m34" x="992.87" y="1158"/><use href="#m34" x="1002.18" y="1161"/><use href="#m34" x="1011.49" y="1160.5"/><use href="#m34" x="1020.81" y="1160.7"/></g><g stroke="#e8000b" fill="#e8000b"><polyline points="657.6,1161.1 666.91,1161.1 676.23,1161.1 685.54,1161.1 694.85,1161.1 704.17,1161.1 713.48,1161.1 722.79,1161.1 732.1,1161.1 741.42,1161.1 750.73,1161.1 760.04,1161.1 769.36,1161.1 778.67,1161.1 787.98,1161.1 797.3,1161.1 806.61,1161.1 815.92,1161.1 825.23,1161.1 834.55,1161.1 843.86,1161.1 853.17,1161.1 862.49,1161.1 871.8,1161.1 881.11,1161.1 890.43,1161.1 899.74,1161.1 909.05,1161.1 918.36,1161.1 927.68,1161.1 936.99,1161.1 946.3,1161.1 955.62,1161.1 964.93,1161.1 974.24,1161.1 983.56,1161.1 992.87,1161.1 1002.18,1161.1 1011.49,1161.1 1020.81,1161.1" fill="none" stroke-width="2.25" stroke-linejoin="round"/><use href="#m34" x="657.6" y="1161.1"/><use href="#m34" x="666.91" y="1161.1"/><use href="#m34" x="676.23" y="1161.1"/><use href="#m34" x="685.54" y="1161.1"/><use href="#m34" x="694.85" y="1161.1"/><use href="#m34" x="704.17" y="1161.1"/><use href="#m34" x="713.48" y="1161.1"/><use href="#m34" x="722.79" y="1161.1"/><use href="#m34" x="732.1" y="1161.1"/><use href="#m34" x="741.42" y="1161.1"/><use href="#m34" x="750.73" y="1161.1"/><use href="#m34" x="760.04" y="1161.1"/><use href="#m34" x="769.36" y="1161.1"/><use href="#m34" x="778.67" y="1161.1"/><use href="#m34" x="787.98" y="1161.1"/><use href="#m34" x="797.3" y="1161.1"/><use href="#m34" x="806.61" y="1161.1"/><use href="#m34" x="815.92" y="1161.1"/><use href="#m34" x="825.23" y="1161.1"/><use href="#m34" x="834.55" y="1161.1"/><use href="#m34" x="843.86" y="1161.1"/><use href="#m34" x="853.17" y="1161.1"/><use href="#m34" x="862.49" y="1161.1"/><use href="#m34" x="871.8" y="1161.1"/><use href="#m34" x="881.11" y="1161.1"/><use href="#m34" x="890.43" y="1161.1"/><use href="#m34" x="899.74" y="1161.1"/><use href="#m34" x="909.05" y="1161.1"/><use href="#m34" x="918.36" y="1161.1"/><use href="#m34" x="927.68" y="1161.1"/><use href="#m34" x="936.99" y="1161.1"/><use href="#m34" x="946.3" y="1161.1"/><use href="#m34" x="955.62" y="1161.1"/><use href="#m34" x="964.93" y="1161.1"/><use href="#m34" x="974.24" y="1161.1"/><use href="#m34" x="983.56" y="1161.1"/><use href="#m34" x="992.87" y="1161.1"/><use href="#m34" x="1002.18" y="1161.1"/><use href="#m34" x="1011.49" y="1161.1"/><use href="#m34" x="1020.81" y="1161.1"/></g><g stroke="#000" stroke-width="1" fill="none"><rect x="658.5" y="877.5" width="372" height="298"/><path d="M732.5 1175.5 v-4 M732.5 877.5 v4 M806.5 1175.5 v-4 M806.5 877.5 v4 M880.6 1175.5 v-4 M880.6 877.5 v4 M955.1 1175.5 v-4 M955.1 877.5 v4 M658.5 927.5 h4 M1030.5 927.5 h-4 M658.5 976.3 h4 M1030.5 976.3 h-4 M658.5 1026.2 h4 M1030.5 1026.2 h-4 M658.5 1075.2 h4 M1030.5 1075.2 h-4 M658.5 1125.4 h4 M1030.5 1125.4 h-4 "/></g><rect x="729.5" y="866.5" width="299" height="120" fill="#fff" stroke="#000" stroke-width="1"/><g stroke="#0000e6" fill="#0000e6"><path d="M737.3 879 H775.8" stroke="#0000b8" stroke-width="2.25"/><use href="#m33" x="756.5" y="879"/></g><g stroke="#e8000b" fill="#e8000b"><path d="M737.3 897 H775.8" stroke="#cf0008" stroke-width="2.25"/><use href="#m33" x="756.5" y="897"/></g><g stroke="#0000e6" fill="#0000e6"><path d="M737.3 916 H775.8" stroke="#0000b8" stroke-width="2.25"/><use href="#m36" x="756.5" y="916"/></g><g stroke="#e8000b" fill="#e8000b"><path d="M737.3 936 H775.8" stroke="#cf0008" stroke-width="2.25"/><use href="#m36" x="756.5" y="936"/></g><g stroke="#0000e6" fill="#0000e6"><path d="M737.3 955 H775.8" stroke="#0000b8" stroke-width="2.25"/><use href="#m34" x="756.5" y="955"/></g><g stroke="#e8000b" fill="#e8000b"><path d="M737.3 974 H775.8" stroke="#cf0008" stroke-width="2.25"/><use href="#m34" x="756.5" y="974"/></g>
</svg>
</body></html>
